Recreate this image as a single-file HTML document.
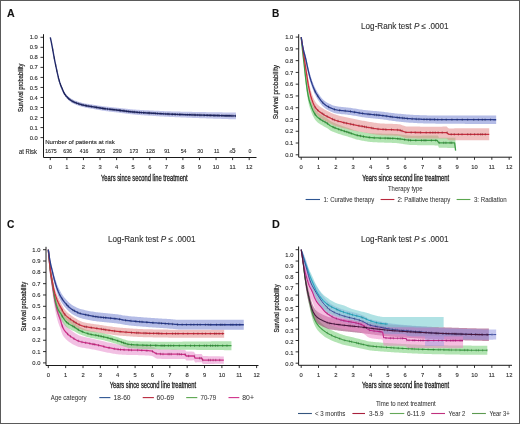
<!DOCTYPE html>
<html><head><meta charset="utf-8"><style>
html,body{margin:0;padding:0;background:#fff;}
svg{display:block;filter:blur(0.3px);}
text{stroke:#2a2a2a;stroke-width:0.12px;}
</style></head><body>
<svg width="520" height="424" viewBox="0 0 520 424" font-family='"Liberation Sans", sans-serif'>
<rect x="0" y="0" width="520" height="424" fill="#fff"/>
<text x="6.9" y="16.5" font-size="11.6"  font-weight="bold" textLength="7.7" lengthAdjust="spacingAndGlyphs" fill="#111" >A</text>
<text x="272" y="16.7" font-size="11.6"  font-weight="bold" textLength="7.3" lengthAdjust="spacingAndGlyphs" fill="#111" >B</text>
<text x="7" y="228.1" font-size="11.6"  font-weight="bold" textLength="7.4" lengthAdjust="spacingAndGlyphs" fill="#111" >C</text>
<text x="272" y="228.1" font-size="11.6"  font-weight="bold" textLength="7.8" lengthAdjust="spacingAndGlyphs" fill="#111" >D</text>
<path d="M43.5,34.2V157.5H256.5" fill="none" stroke="#1a1a1a" stroke-width="1"/>
<path d="M40.5,137.6H43.5M40.5,127.57H43.5M40.5,117.54H43.5M40.5,107.51H43.5M40.5,97.48H43.5M40.5,87.45H43.5M40.5,77.42H43.5M40.5,67.39H43.5M40.5,57.36H43.5M40.5,47.33H43.5M40.5,37.3H43.5M50.3,157.5V160.1M66.88,157.5V160.1M83.45,157.5V160.1M100.02,157.5V160.1M116.6,157.5V160.1M133.18,157.5V160.1M149.75,157.5V160.1M166.32,157.5V160.1M182.9,157.5V160.1M199.47,157.5V160.1M216.05,157.5V160.1M232.62,157.5V160.1M249.2,157.5V160.1" stroke="#1a1a1a" stroke-width="0.9"/>
<text x="37.8" y="139.69" font-size="5.8" text-anchor="end"   fill="#333" >0.0</text>
<text x="37.8" y="129.66" font-size="5.8" text-anchor="end"   fill="#333" >0.1</text>
<text x="37.8" y="119.63" font-size="5.8" text-anchor="end"   fill="#333" >0.2</text>
<text x="37.8" y="109.6" font-size="5.8" text-anchor="end"   fill="#333" >0.3</text>
<text x="37.8" y="99.57" font-size="5.8" text-anchor="end"   fill="#333" >0.4</text>
<text x="37.8" y="89.54" font-size="5.8" text-anchor="end"   fill="#333" >0.5</text>
<text x="37.8" y="79.51" font-size="5.8" text-anchor="end"   fill="#333" >0.6</text>
<text x="37.8" y="69.48" font-size="5.8" text-anchor="end"   fill="#333" >0.7</text>
<text x="37.8" y="59.45" font-size="5.8" text-anchor="end"   fill="#333" >0.8</text>
<text x="37.8" y="49.42" font-size="5.8" text-anchor="end"   fill="#333" >0.9</text>
<text x="37.8" y="39.39" font-size="5.8" text-anchor="end"   fill="#333" >1.0</text>
<text x="50.3" y="169.09" font-size="5.8" text-anchor="middle"   fill="#333" >0</text>
<text x="66.88" y="169.09" font-size="5.8" text-anchor="middle"   fill="#333" >1</text>
<text x="83.45" y="169.09" font-size="5.8" text-anchor="middle"   fill="#333" >2</text>
<text x="100.02" y="169.09" font-size="5.8" text-anchor="middle"   fill="#333" >3</text>
<text x="116.6" y="169.09" font-size="5.8" text-anchor="middle"   fill="#333" >4</text>
<text x="133.18" y="169.09" font-size="5.8" text-anchor="middle"   fill="#333" >5</text>
<text x="149.75" y="169.09" font-size="5.8" text-anchor="middle"   fill="#333" >6</text>
<text x="166.32" y="169.09" font-size="5.8" text-anchor="middle"   fill="#333" >7</text>
<text x="182.9" y="169.09" font-size="5.8" text-anchor="middle"   fill="#333" >8</text>
<text x="199.47" y="169.09" font-size="5.8" text-anchor="middle"   fill="#333" >9</text>
<text x="216.05" y="169.09" font-size="5.8" text-anchor="middle"   fill="#333" >10</text>
<text x="232.62" y="169.09" font-size="5.8" text-anchor="middle"   fill="#333" >11</text>
<text x="249.2" y="169.09" font-size="5.8" text-anchor="middle"   fill="#333" >12</text>
<text transform="translate(22.8,87.7) rotate(-90)" font-size="7.6" text-anchor="middle" textLength="48.4" lengthAdjust="spacingAndGlyphs" fill="#1a1a1a" style="stroke-width:0.24px">Survival probability</text>
<text x="101" y="180.8" font-size="8.2"   textLength="86.7" lengthAdjust="spacingAndGlyphs" fill="#1a1a1a" style="stroke-width:0.32px">Years since second line treatment</text>
<text x="45.2" y="144.2" font-size="6.0"   textLength="69.6" lengthAdjust="spacingAndGlyphs" fill="#222" >Number of patients at risk</text>
<text x="19" y="153.5" font-size="6.6"   textLength="17.9" lengthAdjust="spacingAndGlyphs" fill="#222" >at Risk</text>
<text x="51" y="153.1" font-size="5.2" text-anchor="middle"   fill="#333" >1675</text>
<text x="67.58" y="153.1" font-size="5.2" text-anchor="middle"   fill="#333" >636</text>
<text x="84.15" y="153.1" font-size="5.2" text-anchor="middle"   fill="#333" >416</text>
<text x="100.72" y="153.1" font-size="5.2" text-anchor="middle"   fill="#333" >305</text>
<text x="117.3" y="153.1" font-size="5.2" text-anchor="middle"   fill="#333" >230</text>
<text x="133.88" y="153.1" font-size="5.2" text-anchor="middle"   fill="#333" >173</text>
<text x="150.45" y="153.1" font-size="5.2" text-anchor="middle"   fill="#333" >128</text>
<text x="167.02" y="153.1" font-size="5.2" text-anchor="middle"   fill="#333" >91</text>
<text x="183.6" y="153.1" font-size="5.2" text-anchor="middle"   fill="#333" >54</text>
<text x="200.17" y="153.1" font-size="5.2" text-anchor="middle"   fill="#333" >30</text>
<text x="216.75" y="153.1" font-size="5.2" text-anchor="middle"   fill="#333" >11</text>
<text x="229.43" y="153.0" font-size="4.8" fill="#555">≤<tspan font-size="6.4" fill="#222">5</tspan></text>
<text x="249.9" y="153.1" font-size="5.2" text-anchor="middle"   fill="#333" >0</text>
<polygon points="50.3,36.7 51.47,42.1 52.64,48.26 53.8,54.76 54.97,60.79 56.14,66.22 57.31,71.68 58.47,76.55 59.64,80.73 60.81,84.04 61.98,86.8 63.14,89.54 64.31,91.87 65.48,93.53 66.65,94.92 67.81,96.11 68.98,97.1 70.15,97.96 71.32,98.71 72.48,99.36 73.65,99.91 74.82,100.38 75.99,100.84 77.15,101.26 78.32,101.66 79.49,102.02 80.66,102.35 81.82,102.66 82.99,102.94 84.16,103.2 85.33,103.43 86.49,103.65 87.66,103.84 88.83,104.02 90,104.2 91.16,104.37 92.33,104.54 93.5,104.72 94.67,104.9 95.83,105.09 97,105.27 98.17,105.46 99.34,105.64 100.5,105.81 101.67,105.98 102.84,106.15 104.01,106.3 105.17,106.45 106.34,106.58 107.51,106.72 108.68,106.84 109.84,106.96 111.01,107.08 112.18,107.19 113.35,107.3 114.52,107.42 115.68,107.53 116.85,107.65 118.02,107.77 119.19,107.9 120.35,108.04 121.52,108.17 122.69,108.31 123.86,108.44 125.02,108.58 126.19,108.72 127.36,108.85 128.53,108.98 129.69,109.1 130.86,109.22 132.03,109.34 133.2,109.44 134.36,109.54 135.53,109.62 136.7,109.71 137.87,109.78 139.03,109.86 140.2,109.93 141.37,109.99 142.54,110.06 143.7,110.12 144.87,110.18 146.04,110.24 147.21,110.3 148.37,110.35 149.54,110.41 150.71,110.47 151.88,110.52 153.04,110.58 154.21,110.64 155.38,110.69 156.55,110.75 157.71,110.81 158.88,110.86 160.05,110.92 161.22,110.97 162.38,111.03 163.55,111.08 164.72,111.13 165.89,111.18 167.05,111.22 168.22,111.27 169.39,111.31 170.56,111.35 171.72,111.38 172.89,111.42 174.06,111.46 175.23,111.49 176.4,111.52 177.56,111.55 178.73,111.59 179.9,111.62 181.07,111.65 182.23,111.67 183.4,111.7 184.57,111.73 185.74,111.75 186.9,111.78 188.07,111.8 189.24,111.82 190.41,111.84 191.57,111.87 192.74,111.89 193.91,111.91 195.08,111.93 196.24,111.96 197.41,111.98 198.58,112 199.75,112.02 200.91,112.04 202.08,112.06 203.25,112.08 204.42,112.1 205.58,112.12 206.75,112.14 207.92,112.16 209.09,112.18 210.25,112.2 211.42,112.22 212.59,112.24 213.76,112.25 214.92,112.27 216.09,112.29 217.26,112.31 218.43,112.32 219.59,112.34 220.76,112.36 221.93,112.37 223.1,112.39 224.26,112.4 225.43,112.42 226.6,112.43 227.77,112.45 228.93,112.46 230.1,112.47 231.27,112.49 232.44,112.5 233.6,112.51 234.77,112.52 235.94,112.54 235.94,119.34 234.77,119.3 233.6,119.27 232.44,119.23 231.27,119.2 230.1,119.16 228.93,119.13 227.77,119.09 226.6,119.06 225.43,119.02 224.26,118.98 223.1,118.95 221.93,118.91 220.76,118.87 219.59,118.83 218.43,118.79 217.26,118.76 216.09,118.72 214.92,118.68 213.76,118.64 212.59,118.6 211.42,118.56 210.25,118.52 209.09,118.47 207.92,118.43 206.75,118.39 205.58,118.35 204.42,118.31 203.25,118.27 202.08,118.22 200.91,118.18 199.75,118.14 198.58,118.09 197.41,118.05 196.24,118.01 195.08,117.96 193.91,117.92 192.74,117.88 191.57,117.83 190.41,117.79 189.24,117.74 188.07,117.7 186.9,117.65 185.74,117.6 184.57,117.56 183.4,117.51 182.23,117.46 181.07,117.42 179.9,117.37 178.73,117.32 177.56,117.27 176.4,117.22 175.23,117.17 174.06,117.12 172.89,117.07 171.72,117.02 170.56,116.96 169.39,116.9 168.22,116.85 167.05,116.78 165.89,116.72 164.72,116.65 163.55,116.59 162.38,116.52 161.22,116.45 160.05,116.38 158.88,116.3 157.71,116.23 156.55,116.15 155.38,116.08 154.21,116 153.04,115.93 151.88,115.85 150.71,115.78 149.54,115.71 148.37,115.63 147.21,115.56 146.04,115.48 144.87,115.41 143.7,115.33 142.54,115.25 141.37,115.17 140.2,115.08 139.03,114.99 137.87,114.9 136.7,114.81 135.53,114.71 134.36,114.6 133.2,114.49 132.03,114.37 130.86,114.24 129.69,114.1 128.53,113.96 127.36,113.81 126.19,113.66 125.02,113.51 123.86,113.35 122.69,113.2 121.52,113.04 120.35,112.89 119.19,112.74 118.02,112.6 116.85,112.45 115.68,112.31 114.52,112.18 113.35,112.04 112.18,111.91 111.01,111.77 109.84,111.63 108.68,111.49 107.51,111.34 106.34,111.19 105.17,111.03 104.01,110.86 102.84,110.68 101.67,110.49 100.5,110.3 99.34,110.1 98.17,109.9 97,109.69 95.83,109.49 94.67,109.28 93.5,109.08 92.33,108.87 91.16,108.68 90,108.49 88.83,108.29 87.66,108.08 86.49,107.86 85.33,107.63 84.16,107.37 82.99,107.09 81.82,106.79 80.66,106.46 79.49,106.1 78.32,105.72 77.15,105.3 75.99,104.85 74.82,104.36 73.65,103.8 72.48,103.17 71.32,102.43 70.15,101.6 68.98,100.66 67.81,99.57 66.65,98.31 65.48,96.83 64.31,95.09 63.14,92.67 61.98,89.84 60.81,87 59.64,83.61 58.47,79.33 57.31,74.23 56.14,68.55 54.97,62.9 53.8,56.63 52.64,49.91 51.47,43.53 50.3,37.9" fill="#8f98dd" fill-opacity="0.55"/>
<polyline points="50.3,37.3 51.47,42.82 52.64,49.09 53.8,55.69 54.97,61.84 56.14,67.39 57.31,72.95 58.47,77.94 59.64,82.17 60.81,85.52 61.98,88.32 63.14,91.1 64.31,93.48 65.48,95.18 66.65,96.62 67.81,97.84 68.98,98.88 70.15,99.78 71.32,100.57 72.48,101.26 73.65,101.86 74.82,102.37 75.99,102.84 77.15,103.28 78.32,103.69 79.49,104.06 80.66,104.41 81.82,104.73 82.99,105.02 84.16,105.29 85.33,105.53 86.49,105.75 87.66,105.96 88.83,106.16 90,106.34 91.16,106.53 92.33,106.71 93.5,106.9 94.67,107.09 95.83,107.29 97,107.48 98.17,107.68 99.34,107.87 100.5,108.06 101.67,108.24 102.84,108.41 104.01,108.58 105.17,108.74 106.34,108.89 107.51,109.03 108.68,109.16 109.84,109.29 111.01,109.42 112.18,109.55 113.35,109.67 114.52,109.8 115.68,109.92 116.85,110.05 118.02,110.19 119.19,110.32 120.35,110.46 121.52,110.61 122.69,110.75 123.86,110.9 125.02,111.05 126.19,111.19 127.36,111.33 128.53,111.47 129.69,111.6 130.86,111.73 132.03,111.85 133.2,111.97 134.36,112.07 135.53,112.17 136.7,112.26 137.87,112.34 139.03,112.43 140.2,112.5 141.37,112.58 142.54,112.65 143.7,112.72 144.87,112.79 146.04,112.86 147.21,112.93 148.37,112.99 149.54,113.06 150.71,113.12 151.88,113.19 153.04,113.25 154.21,113.32 155.38,113.39 156.55,113.45 157.71,113.52 158.88,113.58 160.05,113.65 161.22,113.71 162.38,113.77 163.55,113.83 164.72,113.89 165.89,113.95 167.05,114 168.22,114.06 169.39,114.11 170.56,114.15 171.72,114.2 172.89,114.24 174.06,114.29 175.23,114.33 176.4,114.37 177.56,114.41 178.73,114.45 179.9,114.49 181.07,114.53 182.23,114.57 183.4,114.61 184.57,114.64 185.74,114.68 186.9,114.71 188.07,114.75 189.24,114.78 190.41,114.82 191.57,114.85 192.74,114.88 193.91,114.92 195.08,114.95 196.24,114.98 197.41,115.01 198.58,115.05 199.75,115.08 200.91,115.11 202.08,115.14 203.25,115.17 204.42,115.2 205.58,115.24 206.75,115.27 207.92,115.3 209.09,115.33 210.25,115.36 211.42,115.39 212.59,115.42 213.76,115.45 214.92,115.47 216.09,115.5 217.26,115.53 218.43,115.56 219.59,115.59 220.76,115.61 221.93,115.64 223.1,115.67 224.26,115.69 225.43,115.72 226.6,115.75 227.77,115.77 228.93,115.8 230.1,115.82 231.27,115.84 232.44,115.87 233.6,115.89 234.77,115.91 235.94,115.94" fill="none" stroke="#222a6c" stroke-width="1.4" stroke-linejoin="round"/><path d="M52.79,48.66v2.6 M54.18,56.48v2.6 M55.74,64.22v2.6 M56.87,69.58v2.6 M58.35,76.17v2.6 M59.23,79.45v2.6 M60.41,83.18v2.6 M61.17,85.1v2.6 M62.26,87.71v2.6 M63.45,90.48v2.6 M64.43,92.38v2.6 M65.75,94.24v2.6 M67.36,96.09v2.6 M68.64,97.3v2.6 M70.08,98.43v2.6 M71.91,99.63v2.6 M73.22,100.35v2.6 M74.86,101.09v2.6 M76.47,101.73v2.6 M78.54,102.46v2.6 M79.93,102.9v2.6 M81.75,103.41v2.6 M83.07,103.74v2.6 M85.29,104.22v2.6 M86.54,104.46v2.6 M88.35,104.78v2.6 M89.94,105.03v2.6 M91.64,105.3v2.6 M94,105.68v2.6 M95.05,105.86v2.6 M96.46,106.09v2.6 M98.07,106.36v2.6 M99.41,106.58v2.6 M100.73,106.79v2.6 M102.47,107.06v2.6 M103.27,107.17v2.6 M104.21,107.31v2.6 M105.28,107.45v2.6 M107.51,107.73v2.6 M109.78,107.99v2.6 M110.89,108.11v2.6 M112.2,108.25v2.6 M113.69,108.41v2.6 M114.95,108.54v2.6 M116.39,108.7v2.6 M118.08,108.89v2.6 M119.51,109.06v2.6 M120.41,109.17v2.6 M121.06,109.25v2.6 M122.82,109.47v2.6 M123.64,109.57v2.6 M124.43,109.67v2.6 M126.21,109.89v2.6 M126.94,109.98v2.6 M128.45,110.16v2.6 M129.87,110.32v2.6 M130.93,110.44v2.6 M132.48,110.6v2.6 M133.9,110.73v2.6 M134.6,110.79v2.6 M136.08,110.91v2.6 M137.66,111.03v2.6 M139.48,111.16v2.6 M141.44,111.28v2.6 M143.47,111.41v2.6 M145.05,111.5v2.6 M147.08,111.62v2.6 M148.68,111.71v2.6 M149.42,111.75v2.6 M150.03,111.78v2.6 M151.82,111.88v2.6 M153.93,112v2.6 M155.55,112.1v2.6 M157.73,112.22v2.6 M159.89,112.34v2.6 M161,112.4v2.6 M163.34,112.52v2.6 M165.28,112.62v2.6 M167.33,112.72v2.6 M168.66,112.77v2.6 M169.8,112.82v2.6 M171.94,112.91v2.6 M172.72,112.94v2.6 M174.84,113.02v2.6 M175.58,113.04v2.6 M177.33,113.11v2.6 M179.44,113.18v2.6 M180.87,113.23v2.6 M183.07,113.3v2.6 M185.06,113.36v2.6 M187.29,113.42v2.6 M189.38,113.49v2.6 M190.99,113.53v2.6 M192.11,113.56v2.6 M193.21,113.6v2.6 M194.45,113.63v2.6 M195.6,113.66v2.6 M197.7,113.72v2.6 M199.43,113.77v2.6 M200.37,113.8v2.6 M201.73,113.83v2.6 M203.29,113.87v2.6 M204.58,113.91v2.6 M206.93,113.97v2.6 M207.9,114v2.6 M209.42,114.04v2.6 M210.51,114.06v2.6 M211.26,114.08v2.6 M212.99,114.13v2.6 M214,114.15v2.6 M215.08,114.18v2.6 M217.13,114.23v2.6 M218.2,114.25v2.6 M219.65,114.29v2.6 M221.55,114.33v2.6 M222.79,114.36v2.6 M224.08,114.39v2.6 M225.73,114.43v2.6 M226.81,114.45v2.6 M227.94,114.47v2.6 M229.09,114.5v2.6 M230.14,114.52v2.6 M231.71,114.55v2.6 M233,114.58v2.6 M235.38,114.62v2.6" stroke="#141940" stroke-width="0.8" opacity="0.6"/>
<path d="M298.7,34.2V157.2H512" fill="none" stroke="#1a1a1a" stroke-width="1"/>
<path d="M295.7,154.8H298.7M295.7,143.03H298.7M295.7,131.26H298.7M295.7,119.49H298.7M295.7,107.72H298.7M295.7,95.95H298.7M295.7,84.18H298.7M295.7,72.41H298.7M295.7,60.64H298.7M295.7,48.87H298.7M295.7,37.1H298.7M301.2,157.2V159.8M318.53,157.2V159.8M335.86,157.2V159.8M353.19,157.2V159.8M370.52,157.2V159.8M387.85,157.2V159.8M405.18,157.2V159.8M422.51,157.2V159.8M439.84,157.2V159.8M457.17,157.2V159.8M474.5,157.2V159.8M491.83,157.2V159.8M509.16,157.2V159.8" stroke="#1a1a1a" stroke-width="0.9"/>
<text x="293.2" y="156.89" font-size="5.8" text-anchor="end"   fill="#333" >0.0</text>
<text x="293.2" y="145.12" font-size="5.8" text-anchor="end"   fill="#333" >0.1</text>
<text x="293.2" y="133.35" font-size="5.8" text-anchor="end"   fill="#333" >0.2</text>
<text x="293.2" y="121.58" font-size="5.8" text-anchor="end"   fill="#333" >0.3</text>
<text x="293.2" y="109.81" font-size="5.8" text-anchor="end"   fill="#333" >0.4</text>
<text x="293.2" y="98.04" font-size="5.8" text-anchor="end"   fill="#333" >0.5</text>
<text x="293.2" y="86.27" font-size="5.8" text-anchor="end"   fill="#333" >0.6</text>
<text x="293.2" y="74.5" font-size="5.8" text-anchor="end"   fill="#333" >0.7</text>
<text x="293.2" y="62.73" font-size="5.8" text-anchor="end"   fill="#333" >0.8</text>
<text x="293.2" y="50.96" font-size="5.8" text-anchor="end"   fill="#333" >0.9</text>
<text x="293.2" y="39.19" font-size="5.8" text-anchor="end"   fill="#333" >1.0</text>
<text x="301.2" y="169.09" font-size="5.8" text-anchor="middle"   fill="#333" >0</text>
<text x="318.53" y="169.09" font-size="5.8" text-anchor="middle"   fill="#333" >1</text>
<text x="335.86" y="169.09" font-size="5.8" text-anchor="middle"   fill="#333" >2</text>
<text x="353.19" y="169.09" font-size="5.8" text-anchor="middle"   fill="#333" >3</text>
<text x="370.52" y="169.09" font-size="5.8" text-anchor="middle"   fill="#333" >4</text>
<text x="387.85" y="169.09" font-size="5.8" text-anchor="middle"   fill="#333" >5</text>
<text x="405.18" y="169.09" font-size="5.8" text-anchor="middle"   fill="#333" >6</text>
<text x="422.51" y="169.09" font-size="5.8" text-anchor="middle"   fill="#333" >7</text>
<text x="439.84" y="169.09" font-size="5.8" text-anchor="middle"   fill="#333" >8</text>
<text x="457.17" y="169.09" font-size="5.8" text-anchor="middle"   fill="#333" >9</text>
<text x="474.5" y="169.09" font-size="5.8" text-anchor="middle"   fill="#333" >10</text>
<text x="491.83" y="169.09" font-size="5.8" text-anchor="middle"   fill="#333" >11</text>
<text x="509.16" y="169.09" font-size="5.8" text-anchor="middle"   fill="#333" >12</text>
<text transform="translate(277.7,92.2) rotate(-90)" font-size="7.6" text-anchor="middle" textLength="54.3" lengthAdjust="spacingAndGlyphs" fill="#1a1a1a" style="stroke-width:0.24px">Survival probability</text>
<text x="362.2" y="180.8" font-size="8.2"   textLength="87" lengthAdjust="spacingAndGlyphs" fill="#1a1a1a" style="stroke-width:0.32px">Years since second line treatment</text>
<text x="361.1" y="28.9" font-size="8.5" fill="#333" textLength="87.5" lengthAdjust="spacingAndGlyphs">Log-Rank test <tspan font-style="italic">P</tspan> ≤ .0001</text>
<text x="388" y="191.2" font-size="6.4"   textLength="34.6" lengthAdjust="spacingAndGlyphs" fill="#333" style="stroke-width:0.04px">Therapy type</text>
<path d="M305.6,199.5H320" stroke="#2d5592" stroke-width="1.1"/>
<text x="323.5" y="201.7" font-size="6.4"   textLength="50.8" lengthAdjust="spacingAndGlyphs" fill="#333" style="stroke-width:0.04px">1: Curative therapy</text>
<path d="M380.6,199.5H394.4" stroke="#b8283c" stroke-width="1.1"/>
<text x="397.5" y="201.7" font-size="6.4"   textLength="52.8" lengthAdjust="spacingAndGlyphs" fill="#333" style="stroke-width:0.04px">2: Palliative therapy</text>
<path d="M456.6,199.5H470.4" stroke="#5aa64e" stroke-width="1.1"/>
<text x="473.9" y="201.7" font-size="6.4"   textLength="32.8" lengthAdjust="spacingAndGlyphs" fill="#333" style="stroke-width:0.04px">3: Radiation</text>
<polygon points="301.2,37.1 302.17,45.58 303.14,52.82 304.11,59.95 305.08,68.21 306.05,75.67 307.02,82.59 307.99,88.64 308.96,93.54 309.93,96.85 310.9,99.62 311.87,102.32 312.84,104.77 313.81,106.76 314.78,108.51 315.75,110.03 316.72,111.26 317.69,112.27 318.66,113.13 319.63,113.85 320.6,114.53 321.57,115.18 322.54,115.78 323.51,116.33 324.48,116.87 325.45,117.42 326.42,118.02 327.39,118.71 328.36,119.51 329.33,120.29 330.3,120.92 331.27,121.46 332.24,121.96 333.21,122.42 334.18,122.86 335.15,123.27 336.12,123.67 337.09,124.05 338.06,124.43 339.03,124.8 340,125.17 340.97,125.53 341.94,125.87 342.91,126.2 343.88,126.53 344.85,126.85 345.82,127.16 346.79,127.48 347.76,127.8 348.73,128.12 349.7,128.46 350.67,128.82 351.64,129.18 352.61,129.54 353.58,129.89 354.55,130.2 355.52,130.5 356.49,130.77 357.46,131 358.43,131.21 359.4,131.4 360.37,131.6 361.34,131.79 362.31,131.97 363.28,132.14 364.25,132.31 365.22,132.47 366.19,132.61 367.16,132.75 368.13,132.88 369.1,132.99 370.07,133.1 371.04,133.19 372.01,133.26 372.98,133.32 373.95,133.37 374.92,133.42 375.89,133.46 376.86,133.49 377.83,133.52 378.8,133.55 379.77,133.58 380.74,133.6 381.71,133.62 382.68,133.64 383.65,133.66 384.62,133.68 385.59,133.7 386.56,133.71 387.53,133.73 388.5,133.75 389.47,133.77 390.44,133.8 391.41,133.83 392.38,133.85 393.35,133.89 394.32,133.93 395.29,133.97 396.26,134.01 397.23,134.08 398.2,134.17 399.17,134.27 400.14,134.39 401.11,134.52 402.08,134.66 403.05,134.81 404.02,134.95 404.99,135.1 405.96,135.23 406.93,135.34 407.9,135.45 408.87,135.53 409.84,135.6 410.81,135.64 411.79,135.65 412.76,135.65 413.73,135.65 414.7,135.65 415.67,135.65 416.64,135.65 417.61,135.64 418.58,135.64 419.55,135.64 420.52,135.63 421.49,135.63 422.46,135.62 423.43,135.61 424.4,135.61 425.37,135.6 426.34,135.59 427.31,135.58 428.28,135.57 429.25,135.56 430.22,135.55 431.19,135.54 432.16,135.53 433.13,135.52 434.1,135.51 435.07,135.5 436.04,135.48 437.01,135.47 437.98,135.56 438.95,137.8 439.92,137.79 440.89,137.78 441.86,137.77 442.83,137.76 443.8,137.75 444.77,137.74 445.74,137.73 446.71,137.72 447.68,137.7 448.65,137.69 449.62,137.68 450.59,137.67 451.56,137.66 452.53,137.65 453.5,137.64 454.47,137.63 455.44,137.61 455.44,147.97 454.47,147.96 453.5,147.95 452.53,147.94 451.56,147.93 450.59,147.92 449.62,147.91 448.65,147.9 447.68,147.89 446.71,147.87 445.74,147.86 444.77,147.85 443.8,147.84 442.83,147.83 441.86,147.82 440.89,147.81 439.92,147.8 438.95,147.78 437.98,145.52 437.01,145.41 436.04,145.4 435.07,145.39 434.1,145.37 433.13,145.36 432.16,145.35 431.19,145.34 430.22,145.33 429.25,145.32 428.28,145.31 427.31,145.29 426.34,145.28 425.37,145.27 424.4,145.25 423.43,145.24 422.46,145.22 421.49,145.2 420.52,145.19 419.55,145.17 418.58,145.15 417.61,145.13 416.64,145.11 415.67,145.09 414.7,145.07 413.73,145.05 412.76,145.02 411.79,145 410.81,144.97 409.84,144.91 408.87,144.82 407.9,144.71 406.93,144.58 405.96,144.44 404.99,144.29 404.02,144.14 403.05,143.98 402.08,143.83 401.11,143.68 400.14,143.53 399.17,143.4 398.2,143.28 397.23,143.19 396.26,143.11 395.29,143.05 394.32,143 393.35,142.95 392.38,142.91 391.41,142.87 390.44,142.83 389.47,142.79 388.5,142.76 387.53,142.73 386.56,142.7 385.59,142.67 384.62,142.64 383.65,142.61 382.68,142.58 381.71,142.55 380.74,142.52 379.77,142.48 378.8,142.45 377.83,142.41 376.86,142.36 375.89,142.32 374.92,142.27 373.95,142.21 372.98,142.15 372.01,142.08 371.04,141.99 370.07,141.89 369.1,141.78 368.13,141.65 367.16,141.51 366.19,141.36 365.22,141.2 364.25,141.04 363.28,140.86 362.31,140.67 361.34,140.48 360.37,140.28 359.4,140.08 358.43,139.87 357.46,139.65 356.49,139.41 355.52,139.13 354.55,138.82 353.58,138.49 352.61,138.16 351.64,137.84 350.67,137.52 349.7,137.2 348.73,136.9 347.76,136.62 346.79,136.34 345.82,136.06 344.85,135.78 343.88,135.5 342.91,135.22 341.94,134.93 340.97,134.62 340,134.3 339.03,133.97 338.06,133.64 337.09,133.3 336.12,132.96 335.15,132.6 334.18,132.23 333.21,131.83 332.24,131.4 331.27,130.94 330.3,130.44 329.33,129.86 328.36,129.11 327.39,128.35 326.42,127.7 325.45,127.14 324.48,126.63 323.51,126.13 322.54,125.62 321.57,125.06 320.6,124.45 319.63,123.81 318.66,123.13 317.69,122.41 316.72,121.56 315.75,120.49 314.78,119.13 313.81,117.54 312.84,115.7 311.87,113.42 310.9,110.87 309.93,108.27 308.96,105.12 307.99,100.37 307.02,94.49 306.05,87.06 305.08,77.93 304.11,67.99 303.14,59.17 302.17,48.94 301.2,37.1" fill="#7fd27f" fill-opacity="0.6"/>
<polygon points="301.2,37.1 302.38,43.04 303.57,49.81 304.75,57.33 305.93,63.94 307.11,71.35 308.3,79.26 309.48,84.86 310.66,89.87 311.84,93.76 313.03,96.96 314.21,99.77 315.39,101.87 316.57,103.43 317.76,104.7 318.94,105.77 320.12,106.65 321.3,107.43 322.49,108.18 323.67,108.92 324.85,109.64 326.03,110.31 327.22,110.93 328.4,111.52 329.58,112.1 330.76,112.66 331.95,113.2 333.13,113.7 334.31,114.17 335.49,114.6 336.68,114.99 337.86,115.34 339.04,115.68 340.23,115.99 341.41,116.29 342.59,116.57 343.77,116.84 344.96,117.1 346.14,117.36 347.32,117.61 348.5,117.86 349.69,118.1 350.87,118.35 352.05,118.59 353.23,118.83 354.42,119.07 355.6,119.31 356.78,119.54 357.96,119.77 359.15,119.99 360.33,120.21 361.51,120.42 362.69,120.63 363.88,120.84 365.06,121.04 366.24,121.25 367.42,121.45 368.61,121.67 369.79,121.88 370.97,122.09 372.15,122.3 373.34,122.5 374.52,122.69 375.7,122.86 376.89,123.03 378.07,123.17 379.25,123.3 380.43,123.4 381.62,123.48 382.8,123.54 383.98,123.6 385.16,123.64 386.35,123.68 387.53,123.72 388.71,123.75 389.89,123.78 391.08,123.81 392.26,123.85 393.44,123.89 394.62,123.94 395.81,123.99 396.99,124.06 398.17,124.14 399.35,124.24 400.54,124.5 401.72,124.9 402.9,125.38 404.08,125.85 405.27,126.22 406.45,126.43 407.63,126.46 408.81,126.48 410,126.51 411.18,126.53 412.36,126.54 413.55,126.56 414.73,126.57 415.91,126.59 417.09,126.6 418.28,126.61 419.46,126.62 420.64,126.63 421.82,126.63 423.01,126.64 424.19,126.64 425.37,126.64 426.55,126.65 427.74,126.65 428.92,126.65 430.1,126.64 431.28,126.64 432.47,126.64 433.65,126.64 434.83,126.64 436.01,126.64 437.2,126.63 438.38,126.63 439.56,126.63 440.74,126.63 441.93,126.63 443.11,126.62 444.29,126.62 445.47,126.62 446.66,126.62 447.84,127.72 449.02,128.38 450.21,128.38 451.39,128.38 452.57,128.38 453.75,128.38 454.94,128.37 456.12,128.37 457.3,128.37 458.48,128.37 459.67,128.37 460.85,128.36 462.03,128.36 463.21,128.36 464.4,128.36 465.58,128.36 466.76,128.36 467.94,128.35 469.13,128.35 470.31,128.35 471.49,128.35 472.67,128.35 473.86,128.35 475.04,128.34 476.22,128.34 477.4,128.34 478.59,128.34 479.77,128.34 480.95,128.34 482.14,128.33 483.32,128.33 484.5,128.33 485.68,128.33 486.87,128.33 488.05,128.33 489.23,128.32 489.23,140.32 488.05,140.31 486.87,140.31 485.68,140.31 484.5,140.31 483.32,140.31 482.14,140.31 480.95,140.3 479.77,140.3 478.59,140.3 477.4,140.3 476.22,140.3 475.04,140.3 473.86,140.29 472.67,140.29 471.49,140.29 470.31,140.29 469.13,140.29 467.94,140.29 466.76,140.28 465.58,140.28 464.4,140.28 463.21,140.28 462.03,140.28 460.85,140.28 459.67,140.27 458.48,140.27 457.3,140.27 456.12,140.27 454.94,140.27 453.75,140.27 452.57,140.26 451.39,140.26 450.21,140.26 449.02,140.26 447.84,139.59 446.66,138.49 445.47,138.49 444.29,138.49 443.11,138.48 441.93,138.48 440.74,138.48 439.56,138.48 438.38,138.48 437.2,138.48 436.01,138.47 434.83,138.47 433.65,138.47 432.47,138.47 431.28,138.47 430.1,138.47 428.92,138.46 427.74,138.46 426.55,138.46 425.37,138.45 424.19,138.45 423.01,138.44 421.82,138.43 420.64,138.42 419.46,138.41 418.28,138.4 417.09,138.38 415.91,138.37 414.73,138.35 413.55,138.33 412.36,138.31 411.18,138.29 410,138.27 408.81,138.24 407.63,138.22 406.45,138.18 405.27,137.97 404.08,137.59 402.9,137.12 401.72,136.64 400.54,136.23 399.35,135.98 398.17,135.87 396.99,135.79 395.81,135.72 394.62,135.66 393.44,135.6 392.26,135.56 391.08,135.52 389.89,135.49 388.71,135.45 387.53,135.42 386.35,135.38 385.16,135.33 383.98,135.29 382.8,135.23 381.62,135.16 380.43,135.08 379.25,134.97 378.07,134.84 376.89,134.7 375.7,134.53 374.52,134.35 373.34,134.16 372.15,133.95 370.97,133.74 369.79,133.53 368.61,133.31 367.42,133.1 366.24,132.88 365.06,132.68 363.88,132.47 362.69,132.26 361.51,132.05 360.33,131.83 359.15,131.61 357.96,131.38 356.78,131.15 355.6,130.91 354.42,130.67 353.23,130.43 352.05,130.17 350.87,129.91 349.69,129.64 348.5,129.38 347.32,129.11 346.14,128.84 344.96,128.56 343.77,128.28 342.59,127.99 341.41,127.69 340.23,127.37 339.04,127.03 337.86,126.68 336.68,126.3 335.49,125.9 334.31,125.44 333.13,124.95 331.95,124.43 330.76,123.87 329.58,123.29 328.4,122.69 327.22,122.08 326.03,121.44 324.85,120.75 323.67,120.01 322.49,119.24 321.3,118.48 320.12,117.68 318.94,116.78 317.76,115.76 316.57,114.59 315.39,113.13 314.21,111.13 313.03,108.42 311.84,105.31 310.66,101.52 309.48,96.6 308.3,91.11 307.11,83.29 305.93,75.12 304.75,66.47 303.57,56.91 302.38,47.13 301.2,37.1" fill="#e48a8a" fill-opacity="0.55"/>
<polygon points="301.2,37.1 302.43,43.43 303.65,48.73 304.88,52.69 306.1,57.04 307.33,62.92 308.56,68.37 309.78,73.21 311.01,77.29 312.24,80.88 313.46,84.11 314.69,86.96 315.91,89.36 317.14,91.46 318.37,93.38 319.59,95.21 320.82,96.92 322.05,98.38 323.27,99.63 324.5,100.75 325.72,101.69 326.95,102.44 328.18,103.13 329.4,103.78 330.63,104.37 331.85,104.91 333.08,105.38 334.31,105.78 335.53,106.11 336.76,106.36 337.99,106.55 339.21,106.72 340.44,106.87 341.66,107 342.89,107.12 344.12,107.23 345.34,107.33 346.57,107.45 347.79,107.57 349.02,107.71 350.25,107.87 351.47,108.05 352.7,108.23 353.93,108.43 355.15,108.62 356.38,108.82 357.6,109.02 358.83,109.22 360.06,109.42 361.28,109.61 362.51,109.79 363.74,109.95 364.96,110.11 366.19,110.24 367.41,110.37 368.64,110.49 369.87,110.6 371.09,110.71 372.32,110.81 373.54,110.91 374.77,111.01 376,111.12 377.22,111.22 378.45,111.33 379.68,111.45 380.9,111.58 382.13,111.71 383.35,111.85 384.58,112.01 385.81,112.16 387.03,112.32 388.26,112.48 389.48,112.64 390.71,112.8 391.94,112.96 393.16,113.11 394.39,113.25 395.62,113.38 396.84,113.51 398.07,113.63 399.29,113.75 400.52,113.87 401.75,113.99 402.97,114.11 404.2,114.22 405.43,114.32 406.65,114.43 407.88,114.53 409.1,114.61 410.33,114.69 411.56,114.76 412.78,114.82 414.01,114.88 415.23,114.94 416.46,115 417.69,115.06 418.91,115.11 420.14,115.16 421.37,115.21 422.59,115.25 423.82,115.29 425.04,115.33 426.27,115.35 427.5,115.38 428.72,115.4 429.95,115.41 431.17,115.41 432.4,115.42 433.63,115.42 434.85,115.43 436.08,115.43 437.31,115.44 438.53,115.44 439.76,115.44 440.98,115.45 442.21,115.45 443.44,115.45 444.66,115.46 445.89,115.46 447.12,115.46 448.34,115.47 449.57,115.47 450.79,115.47 452.02,115.47 453.25,115.47 454.47,115.48 455.7,115.48 456.92,115.48 458.15,115.48 459.38,115.48 460.6,115.48 461.83,115.48 463.06,115.48 464.28,115.48 465.51,115.48 466.73,115.48 467.96,115.48 469.19,115.48 470.41,115.48 471.64,115.48 472.87,115.48 474.09,115.48 475.32,115.48 476.54,115.47 477.77,115.47 479,115.47 480.22,115.47 481.45,115.47 482.67,115.46 483.9,115.46 485.13,115.46 486.35,115.46 487.58,115.45 488.81,115.45 490.03,115.45 491.26,115.44 492.48,115.44 493.71,115.44 494.94,115.43 496.16,115.43 496.16,124.02 494.94,124.02 493.71,124.01 492.48,124.01 491.26,124.01 490.03,124 488.81,124 487.58,123.99 486.35,123.99 485.13,123.98 483.9,123.98 482.67,123.97 481.45,123.96 480.22,123.96 479,123.95 477.77,123.95 476.54,123.94 475.32,123.93 474.09,123.93 472.87,123.92 471.64,123.91 470.41,123.91 469.19,123.9 467.96,123.89 466.73,123.88 465.51,123.88 464.28,123.87 463.06,123.86 461.83,123.85 460.6,123.84 459.38,123.83 458.15,123.83 456.92,123.82 455.7,123.81 454.47,123.8 453.25,123.79 452.02,123.78 450.79,123.77 449.57,123.76 448.34,123.75 447.12,123.74 445.89,123.73 444.66,123.72 443.44,123.7 442.21,123.69 440.98,123.68 439.76,123.67 438.53,123.66 437.31,123.65 436.08,123.63 434.85,123.62 433.63,123.61 432.4,123.59 431.17,123.58 429.95,123.57 428.72,123.55 427.5,123.52 426.27,123.49 425.04,123.46 423.82,123.41 422.59,123.37 421.37,123.32 420.14,123.26 418.91,123.2 417.69,123.14 416.46,123.08 415.23,123.01 414.01,122.94 412.78,122.87 411.56,122.8 410.33,122.73 409.1,122.64 407.88,122.54 406.65,122.44 405.43,122.33 404.2,122.2 402.97,122.07 401.75,121.94 400.52,121.8 399.29,121.66 398.07,121.52 396.84,121.38 395.62,121.24 394.39,121.09 393.16,120.92 391.94,120.76 390.71,120.58 389.48,120.4 388.26,120.22 387.03,120.04 385.81,119.86 384.58,119.69 383.35,119.52 382.13,119.36 380.9,119.2 379.68,119.06 378.45,118.92 377.22,118.79 376,118.67 374.77,118.55 373.54,118.43 372.32,118.31 371.09,118.18 369.87,118.06 368.64,117.93 367.41,117.79 366.19,117.64 364.96,117.49 363.74,117.31 362.51,117.13 361.28,116.93 360.06,116.72 358.83,116.51 357.6,116.29 356.38,116.07 355.15,115.85 353.93,115.64 352.7,115.43 351.47,115.24 350.25,115.06 349.02,114.89 347.79,114.74 346.57,114.61 345.34,114.49 344.12,114.37 342.89,114.26 341.66,114.13 340.44,114 339.21,113.84 337.99,113.67 336.76,113.46 335.53,113.21 334.31,112.88 333.08,112.47 331.85,111.98 330.63,111.44 329.4,110.84 328.18,110.19 326.95,109.49 325.72,108.73 324.5,107.78 323.27,106.66 322.05,105.4 320.82,103.93 319.59,102.22 318.37,100.38 317.14,98.46 315.91,96.36 314.69,93.96 313.46,91.11 312.24,87.88 311.01,84.29 309.78,80.21 308.56,75.37 307.33,69.92 306.1,63.79 304.88,58.38 303.65,53.35 302.43,46.26 301.2,37.1" fill="#8290d6" fill-opacity="0.6"/>
<polyline points="301.2,37.1 302.17,47.27 303.14,56.01 304.11,64 305.08,73.11 306.06,81.41 307.03,88.58 308,94.55 308.97,99.37 309.94,102.59 310.91,105.27 311.88,107.9 312.85,110.26 313.82,112.18 314.8,113.85 315.77,115.28 316.74,116.43 317.71,117.36 318.68,118.14 319.65,118.84 320.62,119.5 321.59,120.14 322.56,120.71 323.54,121.24 324.51,121.76 325.48,122.3 326.45,122.88 327.42,123.55 328.39,124.34 329.36,125.1 330.33,125.7 331.31,126.22 332.28,126.7 333.25,127.14 334.22,127.56 335.19,127.95 336.16,128.33 337.13,128.69 338.1,129.05 339.07,129.4 340.05,129.75 341.02,130.09 341.99,130.41 342.96,130.73 343.93,131.03 344.9,131.33 345.87,131.63 346.84,131.92 347.81,132.23 348.79,132.53 349.76,132.85 350.73,133.19 351.7,133.53 352.67,133.87 353.64,134.21 354.61,134.53 355.58,134.83 356.55,135.11 357.53,135.34 358.5,135.55 359.47,135.75 360.44,135.95 361.41,136.15 362.38,136.33 363.35,136.51 364.32,136.68 365.29,136.85 366.27,137 367.24,137.14 368.21,137.28 369.18,137.4 370.15,137.5 371.12,137.6 372.09,137.68 373.06,137.74 374.04,137.8 375.01,137.85 375.98,137.89 376.95,137.93 377.92,137.97 378.89,138 379.86,138.03 380.83,138.06 381.8,138.09 382.78,138.11 383.75,138.14 384.72,138.16 385.69,138.18 386.66,138.21 387.63,138.23 388.6,138.26 389.57,138.29 390.54,138.32 391.52,138.35 392.49,138.39 393.46,138.42 394.43,138.47 395.4,138.52 396.37,138.57 397.34,138.64 398.31,138.74 399.28,138.85 400.26,138.98 401.23,139.12 402.2,139.26 403.17,139.41 404.14,139.56 405.11,139.71 406.08,139.85 407.05,139.98 408.02,140.09 409,140.19 409.97,140.26 410.94,140.31 411.91,140.33 412.88,140.34 413.85,140.35 414.82,140.36 415.79,140.37 416.76,140.38 417.74,140.39 418.71,140.4 419.68,140.4 420.65,140.41 421.62,140.42 422.59,140.42 423.56,140.43 424.53,140.43 425.51,140.43 426.48,140.44 427.45,140.44 428.42,140.44 429.39,140.44 430.36,140.44 431.33,140.44 432.3,140.44 433.27,140.44 434.25,140.44 435.22,140.44 436.19,140.44 437.16,140.44 438.13,141.85 439.1,142.79 440.07,142.79 441.04,142.79 442.01,142.79 442.99,142.79 443.96,142.79 444.93,142.79 445.9,142.79 446.87,142.79 447.84,142.79 448.81,142.79 449.78,142.79 450.75,142.79 451.73,142.79 452.7,142.79 453.67,142.79 454.64,142.79 455.61,150.68" fill="none" stroke="#3c9c44" stroke-width="1.3" stroke-linejoin="round"/><path d="M315.06,112.97v2.6 M320.1,117.85v2.6 M322.88,119.59v2.6 M325.05,120.76v2.6 M327.43,122.26v2.6 M333.05,125.75v2.6 M334.96,126.56v2.6 M338.73,127.98v2.6 M341.13,128.83v2.6 M344.4,129.87v2.6 M346.81,130.61v2.6 M348.94,131.28v2.6 M351.18,132.05v2.6 M357.23,133.97v2.6 M360.51,134.67v2.6 M363.5,135.24v2.6 M369.22,136.1v2.6 M374.27,136.51v2.6 M380.29,136.75v2.6 M385.16,136.87v2.6 M387.97,136.94v2.6 M390.07,137v2.6 M392.77,137.1v2.6 M397.7,137.37v2.6 M400.05,137.65v2.6 M404.62,138.34v2.6 M408.46,138.84v2.6 M410.62,139v2.6 M415.82,139.07v2.6 M421.49,139.11v2.6 M424.05,139.13v2.6 M425.86,139.13v2.6 M431.37,139.14v2.6 M435.8,139.14v2.6 M439.1,141.49v2.6 M443.7,141.49v2.6 M445.92,141.49v2.6 M450.08,141.49v2.6 M451.73,141.49v2.6" stroke="#245d28" stroke-width="0.8" opacity="0.55"/>
<polyline points="301.2,37.1 302.38,45.08 303.57,53.36 304.75,61.9 305.93,69.53 307.11,77.32 308.3,85.18 309.48,90.73 310.66,95.69 311.84,99.54 313.03,102.69 314.21,105.45 315.39,107.5 316.57,109.01 317.76,110.23 318.94,111.27 320.12,112.16 321.3,112.95 322.49,113.71 323.67,114.47 324.85,115.19 326.03,115.87 327.22,116.5 328.4,117.11 329.58,117.7 330.76,118.27 331.95,118.81 333.13,119.33 334.31,119.81 335.49,120.25 336.68,120.65 337.86,121.01 339.04,121.36 340.23,121.68 341.41,121.99 342.59,122.28 343.77,122.56 344.96,122.83 346.14,123.1 347.32,123.36 348.5,123.62 349.69,123.87 350.87,124.13 352.05,124.38 353.23,124.63 354.42,124.87 355.6,125.11 356.78,125.34 357.96,125.57 359.15,125.8 360.33,126.02 361.51,126.23 362.69,126.45 363.88,126.66 365.06,126.86 366.24,127.06 367.42,127.28 368.61,127.49 369.79,127.7 370.97,127.92 372.15,128.13 373.34,128.33 374.52,128.52 375.7,128.7 376.89,128.86 378.07,129.01 379.25,129.13 380.43,129.24 381.62,129.32 382.8,129.38 383.98,129.44 385.16,129.49 386.35,129.53 387.53,129.57 388.71,129.6 389.89,129.63 391.08,129.67 392.26,129.7 393.44,129.75 394.62,129.8 395.81,129.85 396.99,129.92 398.17,130.01 399.35,130.11 400.54,130.36 401.72,130.77 402.9,131.25 404.08,131.72 405.27,132.1 406.45,132.3 407.63,132.34 408.81,132.36 410,132.39 411.18,132.41 412.36,132.43 413.55,132.45 414.73,132.46 415.91,132.48 417.09,132.49 418.28,132.5 419.46,132.51 420.64,132.52 421.82,132.53 423.01,132.54 424.19,132.54 425.37,132.55 426.55,132.55 427.74,132.55 428.92,132.55 430.1,132.55 431.28,132.55 432.47,132.55 433.65,132.55 434.83,132.55 436.01,132.55 437.2,132.55 438.38,132.55 439.56,132.55 440.74,132.55 441.93,132.55 443.11,132.55 444.29,132.55 445.47,132.55 446.66,132.55 447.84,133.65 449.02,134.32 450.21,134.32 451.39,134.32 452.57,134.32 453.75,134.32 454.94,134.32 456.12,134.32 457.3,134.32 458.48,134.32 459.67,134.32 460.85,134.32 462.03,134.32 463.21,134.32 464.4,134.32 465.58,134.32 466.76,134.32 467.94,134.32 469.13,134.32 470.31,134.32 471.49,134.32 472.67,134.32 473.86,134.32 475.04,134.32 476.22,134.32 477.4,134.32 478.59,134.32 479.77,134.32 480.95,134.32 482.14,134.32 483.32,134.32 484.5,134.32 485.68,134.32 486.87,134.32 488.05,134.32 489.23,134.32" fill="none" stroke="#c83040" stroke-width="1.3" stroke-linejoin="round"/><path d="M315.06,105.71v2.6 M317.86,109.03v2.6 M322.19,112.22v2.6 M323.86,113.29v2.6 M327.11,115.15v2.6 M332.65,117.82v2.6 M334.73,118.67v2.6 M338.03,119.76v2.6 M343.88,121.29v2.6 M346.63,121.91v2.6 M350.64,122.78v2.6 M353.4,123.36v2.6 M358.97,124.46v2.6 M362.09,125.04v2.6 M364.49,125.46v2.6 M366.43,125.8v2.6 M371.31,126.68v2.6 M373.06,126.98v2.6 M378.08,127.71v2.6 M383.07,128.1v2.6 M385.93,128.22v2.6 M391.47,128.38v2.6 M397.39,128.65v2.6 M400.21,128.98v2.6 M402.06,129.6v2.6 M405.89,130.93v2.6 M411.17,131.11v2.6 M415.17,131.17v2.6 M420.6,131.22v2.6 M426.18,131.25v2.6 M430.11,131.25v2.6 M432.85,131.25v2.6 M435.2,131.25v2.6 M438.11,131.25v2.6 M442.19,131.25v2.6 M447.16,131.25v2.6 M451.21,133.02v2.6 M454.28,133.02v2.6 M458.38,133.02v2.6 M462.04,133.02v2.6 M467.73,133.02v2.6 M470.7,133.02v2.6 M474.62,133.02v2.6 M477.97,133.02v2.6 M480.68,133.02v2.6 M482.35,133.02v2.6 M485.31,133.02v2.6" stroke="#781c26" stroke-width="0.8" opacity="0.55"/>
<polyline points="301.2,37.1 302.43,44.85 303.65,51.04 304.88,55.53 306.1,60.42 307.33,66.42 308.56,71.87 309.78,76.71 311.01,80.79 312.24,84.38 313.46,87.61 314.69,90.46 315.91,92.86 317.14,94.96 318.37,96.88 319.59,98.71 320.82,100.42 322.05,101.89 323.27,103.14 324.5,104.27 325.72,105.21 326.95,105.97 328.18,106.66 329.4,107.31 330.63,107.91 331.85,108.45 333.08,108.92 334.31,109.33 335.53,109.66 336.76,109.91 337.99,110.11 339.21,110.28 340.44,110.43 341.66,110.57 342.89,110.69 344.12,110.8 345.34,110.91 346.57,111.03 347.79,111.16 349.02,111.3 350.25,111.46 351.47,111.64 352.7,111.83 353.93,112.03 355.15,112.24 356.38,112.45 357.6,112.66 358.83,112.86 360.06,113.07 361.28,113.27 362.51,113.46 363.74,113.63 364.96,113.8 366.19,113.94 367.41,114.08 368.64,114.21 369.87,114.33 371.09,114.45 372.32,114.56 373.54,114.67 374.77,114.78 376,114.89 377.22,115.01 378.45,115.13 379.68,115.25 380.9,115.39 382.13,115.53 383.35,115.69 384.58,115.85 385.81,116.01 387.03,116.18 388.26,116.35 389.48,116.52 390.71,116.69 391.94,116.86 393.16,117.02 394.39,117.17 395.62,117.31 396.84,117.44 398.07,117.58 399.29,117.71 400.52,117.84 401.75,117.97 402.97,118.09 404.2,118.21 405.43,118.33 406.65,118.43 407.88,118.53 409.1,118.63 410.33,118.71 411.56,118.78 412.78,118.85 414.01,118.91 415.23,118.98 416.46,119.04 417.69,119.1 418.91,119.16 420.14,119.21 421.37,119.26 422.59,119.31 423.82,119.35 425.04,119.39 426.27,119.42 427.5,119.45 428.72,119.47 429.95,119.49 431.17,119.5 432.4,119.51 433.63,119.51 434.85,119.52 436.08,119.53 437.31,119.54 438.53,119.55 439.76,119.56 440.98,119.56 442.21,119.57 443.44,119.58 444.66,119.59 445.89,119.59 447.12,119.6 448.34,119.61 449.57,119.61 450.79,119.62 452.02,119.63 453.25,119.63 454.47,119.64 455.7,119.64 456.92,119.65 458.15,119.65 459.38,119.66 460.6,119.66 461.83,119.67 463.06,119.67 464.28,119.67 465.51,119.68 466.73,119.68 467.96,119.69 469.19,119.69 470.41,119.69 471.64,119.7 472.87,119.7 474.09,119.7 475.32,119.7 476.54,119.71 477.77,119.71 479,119.71 480.22,119.71 481.45,119.72 482.67,119.72 483.9,119.72 485.13,119.72 486.35,119.72 487.58,119.72 488.81,119.72 490.03,119.72 491.26,119.72 492.48,119.72 493.71,119.73 494.94,119.73 496.16,119.73" fill="none" stroke="#2a3c8c" stroke-width="1.3" stroke-linejoin="round"/><path d="M315.06,89.94v2.6 M317.71,94.57v2.6 M322.76,101.33v2.6 M328.59,105.58v2.6 M334.49,108.09v2.6 M339.66,109.04v2.6 M345.19,109.6v2.6 M350.51,110.2v2.6 M354.43,110.82v2.6 M359.21,111.63v2.6 M362.59,112.17v2.6 M368.06,112.85v2.6 M369.94,113.04v2.6 M374.34,113.44v2.6 M376.52,113.64v2.6 M378.89,113.87v2.6 M382.86,114.32v2.6 M386.72,114.84v2.6 M390.26,115.33v2.6 M392.18,115.59v2.6 M397.19,116.18v2.6 M399.31,116.41v2.6 M402.37,116.73v2.6 M404.16,116.91v2.6 M407.31,117.19v2.6 M412.17,117.51v2.6 M416.37,117.73v2.6 M418.89,117.86v2.6 M424.02,118.06v2.6 M426.9,118.14v2.6 M430,118.19v2.6 M434.6,118.22v2.6 M437.72,118.24v2.6 M441.89,118.27v2.6 M446.21,118.3v2.6 M451.92,118.32v2.6 M457.14,118.35v2.6 M462.25,118.37v2.6 M467.68,118.39v2.6 M473.76,118.4v2.6 M478.38,118.41v2.6 M482.29,118.42v2.6 M485.07,118.42v2.6 M490.55,118.42v2.6" stroke="#192454" stroke-width="0.8" opacity="0.55"/>
<path d="M46,246.8V365.5H258.5" fill="none" stroke="#1a1a1a" stroke-width="1"/>
<path d="M43,362.9H46M43,351.58H46M43,340.26H46M43,328.94H46M43,317.62H46M43,306.3H46M43,294.98H46M43,283.66H46M43,272.34H46M43,261.02H46M43,249.7H46M48.3,365.5V368.1M65.66,365.5V368.1M83.02,365.5V368.1M100.38,365.5V368.1M117.74,365.5V368.1M135.1,365.5V368.1M152.46,365.5V368.1M169.82,365.5V368.1M187.18,365.5V368.1M204.54,365.5V368.1M221.9,365.5V368.1M239.26,365.5V368.1M256.62,365.5V368.1" stroke="#1a1a1a" stroke-width="0.9"/>
<text x="40.4" y="364.99" font-size="5.8" text-anchor="end"   fill="#333" >0.0</text>
<text x="40.4" y="353.67" font-size="5.8" text-anchor="end"   fill="#333" >0.1</text>
<text x="40.4" y="342.35" font-size="5.8" text-anchor="end"   fill="#333" >0.2</text>
<text x="40.4" y="331.03" font-size="5.8" text-anchor="end"   fill="#333" >0.3</text>
<text x="40.4" y="319.71" font-size="5.8" text-anchor="end"   fill="#333" >0.4</text>
<text x="40.4" y="308.39" font-size="5.8" text-anchor="end"   fill="#333" >0.5</text>
<text x="40.4" y="297.07" font-size="5.8" text-anchor="end"   fill="#333" >0.6</text>
<text x="40.4" y="285.75" font-size="5.8" text-anchor="end"   fill="#333" >0.7</text>
<text x="40.4" y="274.43" font-size="5.8" text-anchor="end"   fill="#333" >0.8</text>
<text x="40.4" y="263.11" font-size="5.8" text-anchor="end"   fill="#333" >0.9</text>
<text x="40.4" y="251.79" font-size="5.8" text-anchor="end"   fill="#333" >1.0</text>
<text x="48.3" y="376.79" font-size="5.8" text-anchor="middle"   fill="#333" >0</text>
<text x="65.66" y="376.79" font-size="5.8" text-anchor="middle"   fill="#333" >1</text>
<text x="83.02" y="376.79" font-size="5.8" text-anchor="middle"   fill="#333" >2</text>
<text x="100.38" y="376.79" font-size="5.8" text-anchor="middle"   fill="#333" >3</text>
<text x="117.74" y="376.79" font-size="5.8" text-anchor="middle"   fill="#333" >4</text>
<text x="135.1" y="376.79" font-size="5.8" text-anchor="middle"   fill="#333" >5</text>
<text x="152.46" y="376.79" font-size="5.8" text-anchor="middle"   fill="#333" >6</text>
<text x="169.82" y="376.79" font-size="5.8" text-anchor="middle"   fill="#333" >7</text>
<text x="187.18" y="376.79" font-size="5.8" text-anchor="middle"   fill="#333" >8</text>
<text x="204.54" y="376.79" font-size="5.8" text-anchor="middle"   fill="#333" >9</text>
<text x="221.9" y="376.79" font-size="5.8" text-anchor="middle"   fill="#333" >10</text>
<text x="239.26" y="376.79" font-size="5.8" text-anchor="middle"   fill="#333" >11</text>
<text x="256.62" y="376.79" font-size="5.8" text-anchor="middle"   fill="#333" >12</text>
<text transform="translate(26,306.5) rotate(-90)" font-size="7.6" text-anchor="middle" textLength="49.6" lengthAdjust="spacingAndGlyphs" fill="#1a1a1a" style="stroke-width:0.24px">Survival probability</text>
<text x="109.7" y="388.4" font-size="8.2"   textLength="86.4" lengthAdjust="spacingAndGlyphs" fill="#1a1a1a" style="stroke-width:0.32px">Years since second line treatment</text>
<text x="108" y="241.6" font-size="8.5" fill="#333" textLength="87.5" lengthAdjust="spacingAndGlyphs">Log-Rank test <tspan font-style="italic">P</tspan> ≤ .0001</text>
<text x="50.8" y="399.8" font-size="6.4"   textLength="35.8" lengthAdjust="spacingAndGlyphs" fill="#333" style="stroke-width:0.04px">Age category</text>
<path d="M99.3,397.6H110.4" stroke="#2d5592" stroke-width="1.1"/>
<text x="113.6" y="399.8" font-size="6.4"   textLength="16.9" lengthAdjust="spacingAndGlyphs" fill="#333" style="stroke-width:0.04px">18-60</text>
<path d="M142.7,397.6H153.9" stroke="#b8283c" stroke-width="1.1"/>
<text x="156.6" y="399.8" font-size="6.4"   textLength="17.4" lengthAdjust="spacingAndGlyphs" fill="#333" style="stroke-width:0.04px">60-69</text>
<path d="M186.2,397.6H197.3" stroke="#5aa64e" stroke-width="1.1"/>
<text x="200.5" y="399.8" font-size="6.4"   textLength="15.7" lengthAdjust="spacingAndGlyphs" fill="#333" style="stroke-width:0.04px">70-79</text>
<path d="M228.5,397.6H239.3" stroke="#d0308a" stroke-width="1.1"/>
<text x="242.3" y="399.8" font-size="6.4"   textLength="11.6" lengthAdjust="spacingAndGlyphs" fill="#333" style="stroke-width:0.04px">80+</text>
<polygon points="48.3,249.7 49.4,259.05 50.51,269.11 51.61,274.98 52.72,280.49 53.82,286.71 54.92,292.51 56.03,297.46 57.13,301.51 58.23,304.97 59.34,308.23 60.44,311.4 61.55,315.79 62.65,319.24 63.75,321.73 64.86,323.63 65.96,325.25 67.07,326.54 68.17,327.69 69.27,328.73 70.38,329.67 71.48,330.55 72.58,331.38 73.69,332.18 74.79,332.94 75.9,333.64 77,334.29 78.1,334.88 79.21,335.4 80.31,335.84 81.42,336.23 82.52,336.59 83.62,336.87 84.73,337.09 85.83,337.31 86.93,337.52 88.04,337.73 89.14,337.96 90.25,338.2 91.35,338.44 92.45,338.67 93.56,338.91 94.66,339.15 95.76,339.39 96.87,339.64 97.97,339.89 99.08,340.14 100.18,340.41 101.28,340.7 102.39,340.99 103.49,341.28 104.6,341.58 105.7,341.86 106.8,342.13 107.91,342.38 109.01,342.62 110.11,342.86 111.22,343.09 112.32,343.33 113.43,343.55 114.53,343.77 115.63,343.97 116.74,344.16 117.84,344.32 118.95,344.45 120.05,344.55 121.15,344.64 122.26,344.71 123.36,344.78 124.46,344.84 125.57,344.89 126.67,344.93 127.78,344.98 128.88,345.01 129.98,345.05 131.09,345.08 132.19,345.11 133.3,345.14 134.4,345.17 135.5,345.19 136.61,345.22 137.71,345.25 138.81,345.28 139.92,345.32 141.02,345.36 142.13,345.4 143.23,345.45 144.33,345.51 145.44,345.57 146.54,345.64 147.65,345.71 148.75,345.8 149.85,345.89 150.96,346 152.06,346.27 153.16,346.85 154.27,347.57 155.37,348.28 156.48,348.8 157.58,348.99 158.68,349.05 159.79,349.1 160.89,349.14 161.99,349.18 163.1,349.21 164.2,349.23 165.31,349.25 166.41,349.27 167.51,349.28 168.62,349.29 169.72,349.3 170.83,349.31 171.93,349.32 173.03,349.32 174.14,349.34 175.24,349.35 176.34,349.37 177.45,349.39 178.55,349.42 179.66,349.48 180.76,349.55 181.86,349.63 182.97,349.71 184.07,349.81 185.18,349.91 186.28,351.43 187.38,351.47 188.49,351.5 189.59,351.54 190.69,351.57 191.8,351.6 192.9,351.64 194.01,351.67 195.11,353.86 196.21,353.89 197.32,353.92 198.42,353.96 199.53,353.99 200.63,354.03 201.73,354.06 202.84,356.02 203.94,356.05 205.04,356.08 206.15,356.1 207.25,356.12 208.36,356.14 209.46,356.16 210.56,356.19 211.67,356.21 212.77,356.23 213.88,356.25 214.98,356.27 216.08,356.29 217.19,356.31 218.29,356.33 219.39,356.36 220.5,356.38 221.6,356.4 222.71,356.42 223.81,356.44 223.81,363.7 222.71,363.72 221.6,363.74 220.5,363.76 219.39,363.78 218.29,363.81 217.19,363.83 216.08,363.85 214.98,363.87 213.88,363.89 212.77,363.91 211.67,363.93 210.56,363.95 209.46,363.98 208.36,364 207.25,364.02 206.15,364.04 205.04,364.06 203.94,364.09 202.84,364.12 201.73,362.23 200.63,362.27 199.53,362.3 198.42,362.33 197.32,362.37 196.21,362.4 195.11,362.44 194.01,360.32 192.9,360.35 191.8,360.39 190.69,360.42 189.59,360.45 188.49,360.49 187.38,360.52 186.28,360.56 185.18,359.1 184.07,359.06 182.97,359.04 181.86,359.02 180.76,359.01 179.66,359.01 178.55,359.01 177.45,359 176.34,358.98 175.24,358.97 174.14,358.96 173.03,358.96 171.93,358.96 170.83,358.96 169.72,358.96 168.62,358.95 167.51,358.95 166.41,358.95 165.31,358.94 164.2,358.93 163.1,358.91 161.99,358.89 160.89,358.86 159.79,358.82 158.68,358.78 157.58,358.73 156.48,358.54 155.37,358.03 154.27,357.33 153.16,356.62 152.06,356.05 150.96,355.78 149.85,355.68 148.75,355.59 147.65,355.52 146.54,355.45 145.44,355.39 144.33,355.33 143.23,355.28 142.13,355.24 141.02,355.21 139.92,355.17 138.81,355.15 137.71,355.12 136.61,355.1 135.5,355.08 134.4,355.06 133.3,355.04 132.19,355.01 131.09,354.99 129.98,354.97 128.88,354.94 127.78,354.91 126.67,354.88 125.57,354.84 124.46,354.79 123.36,354.74 122.26,354.68 121.15,354.61 120.05,354.54 118.95,354.45 117.84,354.32 116.74,354.19 115.63,354.03 114.53,353.86 113.43,353.68 112.32,353.48 111.22,353.28 110.11,353.08 109.01,352.87 107.91,352.67 106.8,352.45 105.7,352.21 104.6,351.95 103.49,351.69 102.39,351.43 101.28,351.17 100.18,350.92 99.08,350.68 97.97,350.45 96.87,350.24 95.76,350.02 94.66,349.81 93.56,349.61 92.45,349.4 91.35,349.2 90.25,348.99 89.14,348.78 88.04,348.59 86.93,348.4 85.83,348.23 84.73,348.04 83.62,347.85 82.52,347.67 81.42,347.51 80.31,347.31 79.21,347.06 78.1,346.73 77,346.33 75.9,345.87 74.79,345.36 73.69,344.79 72.58,344.19 71.48,343.54 70.38,342.86 69.27,342.11 68.17,341.26 67.07,340.29 65.96,339.19 64.86,338.1 63.75,336.83 62.65,334.98 61.55,332.16 60.44,328.4 59.34,325.87 58.23,322.79 57.13,318.9 56.03,314.43 54.92,309.06 53.82,302.83 52.72,294.66 51.61,286.61 50.51,278.2 49.4,264.13 48.3,249.7" fill="#e88ccc" fill-opacity="0.55"/>
<polygon points="48.3,249.7 49.45,259.98 50.6,269.48 51.76,275.12 52.91,281.08 54.06,287.89 55.21,294.18 56.36,298.88 57.51,302.24 58.67,304.74 59.82,306.53 60.97,308.31 62.12,310.55 63.27,312.6 64.43,314.52 65.58,316.14 66.73,317.36 67.88,318.38 69.03,319.3 70.19,320.12 71.34,320.86 72.49,321.56 73.64,322.28 74.79,323.09 75.94,323.98 77.1,324.9 78.25,325.77 79.4,326.53 80.55,327.17 81.7,327.78 82.86,328.36 84.01,328.83 85.16,329.25 86.31,329.63 87.46,329.99 88.62,330.32 89.77,330.61 90.92,330.88 92.07,331.11 93.22,331.33 94.37,331.53 95.53,331.73 96.68,331.94 97.83,332.15 98.98,332.38 100.13,332.62 101.29,332.86 102.44,333.11 103.59,333.36 104.74,333.62 105.89,333.89 107.05,334.16 108.2,334.45 109.35,334.76 110.5,335.09 111.65,335.43 112.8,335.79 113.96,336.14 115.11,336.49 116.26,336.84 117.41,337.19 118.56,337.57 119.72,337.96 120.87,338.36 122.02,338.76 123.17,339.15 124.32,339.52 125.48,339.87 126.63,340.18 127.78,340.46 128.93,340.68 130.08,340.85 131.23,340.95 132.39,341.02 133.54,341.09 134.69,341.15 135.84,341.21 136.99,341.26 138.15,341.31 139.3,341.36 140.45,341.4 141.6,341.43 142.75,341.47 143.91,341.5 145.06,341.53 146.21,341.55 147.36,341.57 148.51,341.59 149.66,341.61 150.82,341.62 151.97,341.63 153.12,341.64 154.27,341.65 155.42,341.66 156.58,341.66 157.73,341.67 158.88,341.67 160.03,341.68 161.18,341.68 162.34,341.69 163.49,341.69 164.64,341.69 165.79,341.69 166.94,341.69 168.09,341.7 169.25,341.7 170.4,341.69 171.55,341.69 172.7,341.69 173.85,341.69 175.01,341.68 176.16,341.68 177.31,341.67 178.46,341.66 179.61,341.65 180.77,341.64 181.92,341.63 183.07,341.62 184.22,341.61 185.37,341.6 186.52,341.59 187.68,341.58 188.83,341.57 189.98,341.56 191.13,341.55 192.28,341.54 193.44,341.53 194.59,341.52 195.74,341.51 196.89,341.5 198.04,341.49 199.2,341.48 200.35,341.47 201.5,341.46 202.65,341.45 203.8,341.44 204.95,341.43 206.11,341.42 207.26,341.41 208.41,341.4 209.56,341.39 210.71,341.38 211.87,341.37 213.02,341.36 214.17,341.35 215.32,341.34 216.47,341.33 217.63,341.32 218.78,341.31 219.93,341.3 221.08,341.29 222.23,341.28 223.38,341.27 224.54,341.26 225.69,341.25 226.84,341.24 227.99,341.23 229.14,341.22 230.3,341.21 231.45,341.2 231.45,350.19 230.3,350.18 229.14,350.17 227.99,350.16 226.84,350.15 225.69,350.14 224.54,350.13 223.38,350.12 222.23,350.11 221.08,350.1 219.93,350.09 218.78,350.08 217.63,350.07 216.47,350.06 215.32,350.05 214.17,350.04 213.02,350.03 211.87,350.02 210.71,350.01 209.56,350 208.41,349.98 207.26,349.97 206.11,349.96 204.95,349.95 203.8,349.94 202.65,349.93 201.5,349.92 200.35,349.91 199.2,349.9 198.04,349.89 196.89,349.88 195.74,349.87 194.59,349.86 193.44,349.85 192.28,349.84 191.13,349.83 189.98,349.82 188.83,349.81 187.68,349.8 186.52,349.79 185.37,349.78 184.22,349.77 183.07,349.76 181.92,349.75 180.77,349.74 179.61,349.73 178.46,349.72 177.31,349.71 176.16,349.7 175.01,349.68 173.85,349.67 172.7,349.65 171.55,349.63 170.4,349.61 169.25,349.59 168.09,349.57 166.94,349.55 165.79,349.53 164.64,349.51 163.49,349.49 162.34,349.46 161.18,349.44 160.03,349.42 158.88,349.39 157.73,349.37 156.58,349.34 155.42,349.31 154.27,349.29 153.12,349.26 151.97,349.23 150.82,349.2 149.66,349.16 148.51,349.13 147.36,349.09 146.21,349.05 145.06,349 143.91,348.96 142.75,348.91 141.6,348.85 140.45,348.79 139.3,348.73 138.15,348.67 136.99,348.6 135.84,348.52 134.69,348.45 133.54,348.37 132.39,348.28 131.23,348.19 130.08,348.07 128.93,347.88 127.78,347.63 126.63,347.34 125.48,347 124.32,346.63 123.17,346.24 122.02,345.83 120.87,345.41 119.72,344.99 118.56,344.58 117.41,344.19 116.26,343.84 115.11,343.49 113.96,343.14 112.8,342.79 111.65,342.43 110.5,342.09 109.35,341.76 108.2,341.45 107.05,341.16 105.89,340.89 104.74,340.62 103.59,340.36 102.44,340.11 101.29,339.86 100.13,339.62 98.98,339.38 97.83,339.15 96.68,338.94 95.53,338.73 94.37,338.53 93.22,338.33 92.07,338.11 90.92,337.88 89.77,337.61 88.62,337.32 87.46,336.99 86.31,336.63 85.16,336.25 84.01,335.83 82.86,335.39 81.7,335.01 80.55,334.6 79.4,334.15 78.25,333.59 77.1,332.92 75.94,332.2 74.79,331.51 73.64,330.91 72.49,330.38 71.34,329.88 70.19,329.34 69.03,328.71 67.88,328 66.73,327.17 65.58,326.17 64.43,324.87 63.27,323.29 62.12,321.57 60.97,319.66 59.82,318.21 58.67,316.74 57.51,314.24 56.36,310.88 55.21,306.18 54.06,299.89 52.91,292.04 51.76,284.09 50.6,276.46 49.45,263.96 48.3,249.7" fill="#7fd27f" fill-opacity="0.6"/>
<polygon points="48.3,249.7 49.41,259.31 50.51,267.81 51.62,273.51 52.72,278.95 53.83,284.78 54.94,288.77 56.04,291.97 57.15,294.9 58.25,297.54 59.36,299.92 60.47,302.05 61.57,304.13 62.68,306.34 63.78,308.35 64.89,309.87 66,311.12 67.1,312.19 68.21,313.16 69.31,314.03 70.42,314.85 71.53,315.65 72.63,316.44 73.74,317.19 74.84,317.92 75.95,318.62 77.06,319.28 78.16,319.92 79.27,320.5 80.37,321.03 81.48,321.53 82.59,321.98 83.69,322.31 84.8,322.56 85.9,322.77 87.01,322.96 88.12,323.14 89.22,323.32 90.33,323.5 91.43,323.67 92.54,323.83 93.65,323.98 94.75,324.14 95.86,324.29 96.96,324.45 98.07,324.6 99.18,324.77 100.28,324.94 101.39,325.11 102.49,325.29 103.6,325.46 104.71,325.64 105.81,325.81 106.92,325.98 108.02,326.14 109.13,326.29 110.24,326.45 111.34,326.61 112.45,326.76 113.56,326.92 114.66,327.06 115.77,327.21 116.87,327.34 117.98,327.46 119.09,327.57 120.19,327.67 121.3,327.77 122.4,327.86 123.51,327.95 124.62,328.04 125.72,328.12 126.83,328.21 127.93,328.29 129.04,328.37 130.15,328.45 131.25,328.53 132.36,328.6 133.46,328.67 134.57,328.74 135.68,328.8 136.78,328.86 137.89,328.92 138.99,328.97 140.1,329.02 141.21,329.07 142.31,329.11 143.42,329.15 144.52,329.19 145.63,329.22 146.74,329.25 147.84,329.27 148.95,329.29 150.05,329.32 151.16,329.34 152.27,329.36 153.37,329.39 154.48,329.41 155.58,329.43 156.69,329.45 157.8,329.47 158.9,329.49 160.01,329.51 161.11,329.53 162.22,329.54 163.33,329.56 164.43,329.58 165.54,329.59 166.64,329.61 167.75,329.62 168.86,329.63 169.96,329.64 171.07,329.65 172.17,329.66 173.28,329.67 174.39,329.68 175.49,329.68 176.6,329.69 177.7,329.69 178.81,329.69 179.92,329.69 181.02,329.69 182.13,329.69 183.23,329.69 184.34,329.69 185.45,329.69 186.55,329.69 187.66,329.69 188.76,329.69 189.87,329.69 190.98,329.69 192.08,329.69 193.19,329.69 194.29,329.69 195.4,329.69 196.51,329.69 197.61,329.69 198.72,329.69 199.82,329.69 200.93,329.69 202.04,329.69 203.14,329.69 204.25,329.69 205.35,329.69 206.46,329.69 207.57,329.69 208.67,329.69 209.78,329.69 210.88,329.69 211.99,329.69 213.1,329.69 214.2,329.69 215.31,329.69 216.41,329.69 217.52,329.69 218.63,329.69 219.73,329.69 220.84,329.69 221.94,329.69 223.05,329.69 224.16,329.69 224.16,337.69 223.05,337.69 221.94,337.69 220.84,337.69 219.73,337.69 218.63,337.69 217.52,337.69 216.41,337.69 215.31,337.69 214.2,337.69 213.1,337.69 211.99,337.69 210.88,337.69 209.78,337.69 208.67,337.69 207.57,337.69 206.46,337.69 205.35,337.69 204.25,337.69 203.14,337.69 202.04,337.69 200.93,337.69 199.82,337.69 198.72,337.69 197.61,337.69 196.51,337.69 195.4,337.69 194.29,337.69 193.19,337.69 192.08,337.69 190.98,337.69 189.87,337.69 188.76,337.69 187.66,337.69 186.55,337.69 185.45,337.69 184.34,337.69 183.23,337.69 182.13,337.69 181.02,337.69 179.92,337.69 178.81,337.69 177.7,337.69 176.6,337.69 175.49,337.68 174.39,337.68 173.28,337.67 172.17,337.66 171.07,337.65 169.96,337.64 168.86,337.63 167.75,337.62 166.64,337.61 165.54,337.59 164.43,337.58 163.33,337.56 162.22,337.54 161.11,337.53 160.01,337.51 158.9,337.49 157.8,337.47 156.69,337.45 155.58,337.43 154.48,337.41 153.37,337.39 152.27,337.36 151.16,337.34 150.05,337.32 148.95,337.29 147.84,337.27 146.74,337.25 145.63,337.22 144.52,337.19 143.42,337.15 142.31,337.11 141.21,337.07 140.1,337.02 138.99,336.97 137.89,336.92 136.78,336.86 135.68,336.8 134.57,336.74 133.46,336.67 132.36,336.6 131.25,336.53 130.15,336.45 129.04,336.37 127.93,336.29 126.83,336.21 125.72,336.12 124.62,336.04 123.51,335.95 122.4,335.86 121.3,335.77 120.19,335.67 119.09,335.57 117.98,335.46 116.87,335.34 115.77,335.21 114.66,335.06 113.56,334.92 112.45,334.76 111.34,334.61 110.24,334.45 109.13,334.29 108.02,334.14 106.92,333.98 105.81,333.81 104.71,333.64 103.6,333.46 102.49,333.29 101.39,333.11 100.28,332.94 99.18,332.77 98.07,332.6 96.96,332.45 95.86,332.29 94.75,332.14 93.65,331.98 92.54,331.83 91.43,331.67 90.33,331.5 89.22,331.32 88.12,331.14 87.01,330.96 85.9,330.77 84.8,330.56 83.69,330.31 82.59,330 81.48,329.62 80.37,329.19 79.27,328.72 78.16,328.19 77.06,327.63 75.95,327.03 74.84,326.39 73.74,325.73 72.63,325.04 71.53,324.32 70.42,323.58 69.31,322.82 68.21,322.01 67.1,321.11 66,320.1 64.89,318.98 63.78,317.62 62.68,315.77 61.57,313.71 60.47,311.79 59.36,309.83 58.25,307.54 57.15,304.9 56.04,301.97 54.94,298.77 53.83,294.78 52.72,288.04 51.62,281.33 50.51,274.36 49.41,263.14 48.3,249.7" fill="#e48a8a" fill-opacity="0.55"/>
<polygon points="48.3,249.7 49.53,256.47 50.76,262.01 51.99,266.59 53.22,271.19 54.45,275.91 55.68,280.02 56.91,283.65 58.14,286.9 59.36,289.57 60.59,291.85 61.82,293.9 63.05,295.76 64.28,297.38 65.51,298.83 66.74,300.19 67.97,301.53 69.2,302.77 70.43,303.81 71.66,304.68 72.89,305.45 74.12,306.15 75.35,306.81 76.58,307.44 77.81,308.03 79.03,308.55 80.26,308.98 81.49,309.31 82.72,309.59 83.95,309.86 85.18,310.14 86.41,310.42 87.64,310.69 88.87,310.94 90.1,311.17 91.33,311.38 92.56,311.6 93.79,311.8 95.02,311.99 96.25,312.17 97.48,312.33 98.71,312.48 99.93,312.62 101.16,312.74 102.39,312.85 103.62,312.96 104.85,313.06 106.08,313.17 107.31,313.28 108.54,313.4 109.77,313.52 111,313.64 112.23,313.77 113.46,313.89 114.69,314.03 115.92,314.16 117.15,314.31 118.38,314.48 119.6,314.65 120.83,314.87 122.06,315.15 123.29,315.38 124.52,315.55 125.75,315.71 126.98,315.86 128.21,316 129.44,316.14 130.67,316.27 131.9,316.39 133.13,316.5 134.36,316.61 135.59,316.72 136.82,316.82 138.05,316.92 139.28,317.02 140.5,317.11 141.73,317.2 142.96,317.3 144.19,317.39 145.42,317.48 146.65,317.58 147.88,317.67 149.11,317.76 150.34,317.85 151.57,317.93 152.8,318.01 154.03,318.1 155.26,318.17 156.49,318.25 157.72,318.33 158.95,318.4 160.17,318.48 161.4,318.56 162.63,318.63 163.86,318.71 165.09,318.78 166.32,318.86 167.55,318.94 168.78,319.02 170.01,319.11 171.24,319.21 172.47,319.32 173.7,319.43 174.93,319.54 176.16,319.65 177.39,319.73 178.62,319.8 179.85,319.84 181.07,319.84 182.3,319.84 183.53,319.84 184.76,319.85 185.99,319.85 187.22,319.85 188.45,319.85 189.68,319.85 190.91,319.85 192.14,319.85 193.37,319.85 194.6,319.85 195.83,319.85 197.06,319.85 198.29,319.85 199.52,319.85 200.74,319.85 201.97,319.85 203.2,319.84 204.43,319.84 205.66,319.84 206.89,319.84 208.12,319.84 209.35,319.84 210.58,319.84 211.81,319.83 213.04,319.83 214.27,319.83 215.5,319.83 216.73,319.82 217.96,319.82 219.19,319.82 220.42,319.82 221.64,319.81 222.87,319.81 224.1,319.81 225.33,319.81 226.56,319.8 227.79,319.8 229.02,319.8 230.25,319.79 231.48,319.79 232.71,319.79 233.94,319.78 235.17,319.78 236.4,319.78 237.63,319.77 238.86,319.77 240.09,319.77 241.31,319.76 242.54,319.76 243.77,319.75 243.77,329.75 242.54,329.75 241.31,329.74 240.09,329.74 238.86,329.73 237.63,329.73 236.4,329.73 235.17,329.72 233.94,329.72 232.71,329.71 231.48,329.71 230.25,329.7 229.02,329.7 227.79,329.69 226.56,329.69 225.33,329.69 224.1,329.68 222.87,329.68 221.64,329.67 220.42,329.67 219.19,329.66 217.96,329.65 216.73,329.65 215.5,329.64 214.27,329.64 213.04,329.63 211.81,329.63 210.58,329.62 209.35,329.62 208.12,329.61 206.89,329.6 205.66,329.6 204.43,329.59 203.2,329.58 201.97,329.58 200.74,329.57 199.52,329.56 198.29,329.56 197.06,329.55 195.83,329.54 194.6,329.53 193.37,329.53 192.14,329.52 190.91,329.51 189.68,329.5 188.45,329.49 187.22,329.49 185.99,329.48 184.76,329.47 183.53,329.46 182.3,329.45 181.07,329.44 179.85,329.43 178.62,329.38 177.39,329.31 176.16,329.21 174.93,329.1 173.7,328.98 172.47,328.86 171.24,328.74 170.01,328.64 168.78,328.55 167.55,328.46 166.32,328.37 165.09,328.28 163.86,328.2 162.63,328.11 161.4,328.03 160.17,327.95 158.95,327.86 157.72,327.78 156.49,327.7 155.26,327.61 154.03,327.52 152.8,327.44 151.57,327.35 150.34,327.25 149.11,327.16 147.88,327.06 146.65,326.96 145.42,326.86 144.19,326.76 142.96,326.66 141.73,326.56 140.5,326.46 139.28,326.35 138.05,326.25 136.82,326.14 135.59,326.03 134.36,325.92 133.13,325.8 131.9,325.68 130.67,325.55 129.44,325.41 128.21,325.27 126.98,325.12 125.75,324.96 124.52,324.79 123.29,324.61 122.06,324.37 120.83,324.09 119.6,323.86 118.38,323.68 117.15,323.51 115.92,323.36 114.69,323.21 113.46,323.07 112.23,322.94 111,322.81 109.77,322.69 108.54,322.56 107.31,322.43 106.08,322.31 104.85,322.2 103.62,322.09 102.39,321.98 101.16,321.87 99.93,321.74 98.71,321.6 97.48,321.44 96.25,321.27 95.02,321.08 93.79,320.89 92.56,320.68 91.33,320.46 90.1,320.24 88.87,320.01 87.64,319.75 86.41,319.48 85.18,319.19 83.95,318.91 82.72,318.63 81.49,318.34 80.26,318.01 79.03,317.58 77.81,317.05 76.58,316.45 75.35,315.81 74.12,315.15 72.89,314.45 71.66,313.68 70.43,312.81 69.2,311.77 67.97,310.53 66.74,309.19 65.51,307.83 64.28,306.38 63.05,304.76 61.82,302.9 60.59,300.85 59.36,298.57 58.14,295.79 56.91,292.3 55.68,288.43 54.45,284.09 53.22,278.94 51.99,273.28 50.76,267.63 49.53,260.01 48.3,249.7" fill="#8290d6" fill-opacity="0.6"/>
<polyline points="48.3,249.7 49.4,261.59 50.51,273.65 51.61,280.8 52.72,287.58 53.82,294.77 54.92,300.78 56.03,305.95 57.13,310.2 58.23,313.88 59.34,317.05 60.44,319.9 61.55,323.98 62.65,327.11 63.75,329.28 64.86,330.86 65.96,332.22 67.07,333.42 68.17,334.47 69.27,335.42 70.38,336.27 71.48,337.05 72.58,337.79 73.69,338.49 74.79,339.15 75.9,339.76 77,340.31 78.1,340.8 79.21,341.23 80.31,341.58 81.42,341.87 82.52,342.13 83.62,342.36 84.73,342.57 85.83,342.77 86.93,342.96 88.04,343.16 89.14,343.37 90.25,343.59 91.35,343.82 92.45,344.04 93.56,344.26 94.66,344.48 95.76,344.71 96.87,344.94 97.97,345.17 99.08,345.41 100.18,345.67 101.28,345.94 102.39,346.21 103.49,346.49 104.6,346.77 105.7,347.03 106.8,347.29 107.91,347.53 109.01,347.75 110.11,347.97 111.22,348.19 112.32,348.4 113.43,348.62 114.53,348.82 115.63,349 116.74,349.17 117.84,349.32 118.95,349.45 120.05,349.55 121.15,349.63 122.26,349.7 123.36,349.76 124.46,349.81 125.57,349.86 126.67,349.91 127.78,349.94 128.88,349.98 129.98,350.01 131.09,350.04 132.19,350.06 133.3,350.09 134.4,350.11 135.5,350.13 136.61,350.16 137.71,350.19 138.81,350.21 139.92,350.25 141.02,350.28 142.13,350.32 143.23,350.37 144.33,350.42 145.44,350.48 146.54,350.54 147.65,350.61 148.75,350.7 149.85,350.79 150.96,350.89 152.06,351.16 153.16,351.73 154.27,352.45 155.37,353.15 156.48,353.67 157.58,353.86 158.68,353.91 159.79,353.96 160.89,354 161.99,354.03 163.1,354.06 164.2,354.08 165.31,354.09 166.41,354.11 167.51,354.12 168.62,354.12 169.72,354.13 170.83,354.13 171.93,354.14 173.03,354.14 174.14,354.15 175.24,354.16 176.34,354.17 177.45,354.19 178.55,354.22 179.66,354.24 180.76,354.28 181.86,354.32 182.97,354.37 184.07,354.43 185.18,354.5 186.28,355.99 187.38,355.99 188.49,355.99 189.59,355.99 190.69,355.99 191.8,355.99 192.9,355.99 194.01,355.99 195.11,358.15 196.21,358.15 197.32,358.15 198.42,358.15 199.53,358.15 200.63,358.15 201.73,358.15 202.84,360.07 203.94,360.07 205.04,360.07 206.15,360.07 207.25,360.07 208.36,360.07 209.46,360.07 210.56,360.07 211.67,360.07 212.77,360.07 213.88,360.07 214.98,360.07 216.08,360.07 217.19,360.07 218.29,360.07 219.39,360.07 220.5,360.07 221.6,360.07 222.71,360.07 223.81,360.07" fill="none" stroke="#d0308a" stroke-width="1.3" stroke-linejoin="round"/><path d="M62.19,324.7v2.6 M67.65,332.69v2.6 M70.44,335.01v2.6 M73.92,337.33v2.6 M78.31,339.59v2.6 M81.98,340.71v2.6 M85.69,341.44v2.6 M89.83,342.21v2.6 M92.94,342.83v2.6 M94.77,343.2v2.6 M98.55,344v2.6 M103.89,345.29v2.6 M109.09,346.46v2.6 M114.23,347.46v2.6 M118.09,348.05v2.6 M120.45,348.28v2.6 M124.12,348.5v2.6 M128.74,348.67v2.6 M131.54,348.75v2.6 M137.65,348.88v2.6 M141.8,349.01v2.6 M146.92,349.27v2.6 M152.55,350.09v2.6 M156.19,352.26v2.6 M160.43,352.69v2.6 M163,352.76v2.6 M168.13,352.82v2.6 M169.8,352.83v2.6 M171.36,352.83v2.6 M177.37,352.89v2.6 M179.22,352.93v2.6 M181.4,353v2.6 M185.17,353.2v2.6 M188.62,354.69v2.6 M194.63,354.69v2.6 M199.56,356.85v2.6 M201.22,356.85v2.6 M202.76,358.77v2.6 M208.44,358.77v2.6 M210.32,358.77v2.6 M213.12,358.77v2.6 M215.73,358.77v2.6 M219.7,358.77v2.6" stroke="#7c1c52" stroke-width="0.8" opacity="0.55"/>
<polyline points="48.3,249.7 49.45,261.97 50.6,272.97 51.76,279.6 52.91,286.56 54.06,293.89 55.21,300.18 56.36,304.88 57.51,308.24 58.67,310.74 59.82,312.37 60.97,313.99 62.12,316.06 63.27,317.95 64.43,319.69 65.58,321.16 66.73,322.26 67.88,323.19 69.03,324.01 70.19,324.73 71.34,325.37 72.49,325.97 73.64,326.6 74.79,327.3 75.94,328.09 77.1,328.91 78.25,329.68 79.4,330.34 80.55,330.88 81.7,331.4 82.86,331.88 84.01,332.33 85.16,332.75 86.31,333.13 87.46,333.49 88.62,333.82 89.77,334.11 90.92,334.38 92.07,334.61 93.22,334.83 94.37,335.03 95.53,335.23 96.68,335.44 97.83,335.65 98.98,335.88 100.13,336.12 101.29,336.36 102.44,336.61 103.59,336.86 104.74,337.12 105.89,337.39 107.05,337.66 108.2,337.95 109.35,338.26 110.5,338.59 111.65,338.93 112.8,339.29 113.96,339.64 115.11,339.99 116.26,340.34 117.41,340.69 118.56,341.08 119.72,341.48 120.87,341.88 122.02,342.29 123.17,342.69 124.32,343.08 125.48,343.44 126.63,343.76 127.78,344.05 128.93,344.28 130.08,344.46 131.23,344.57 132.39,344.65 133.54,344.73 134.69,344.8 135.84,344.87 136.99,344.93 138.15,344.99 139.3,345.04 140.45,345.1 141.6,345.14 142.75,345.19 143.91,345.23 145.06,345.27 146.21,345.3 147.36,345.33 148.51,345.36 149.66,345.39 150.82,345.41 151.97,345.43 153.12,345.45 154.27,345.47 155.42,345.48 156.58,345.5 157.73,345.52 158.88,345.53 160.03,345.55 161.18,345.56 162.34,345.57 163.49,345.59 164.64,345.6 165.79,345.61 166.94,345.62 168.09,345.63 169.25,345.64 170.4,345.65 171.55,345.66 172.7,345.67 173.85,345.68 175.01,345.68 176.16,345.69 177.31,345.69 178.46,345.69 179.61,345.69 180.77,345.69 181.92,345.69 183.07,345.69 184.22,345.69 185.37,345.69 186.52,345.69 187.68,345.69 188.83,345.69 189.98,345.69 191.13,345.69 192.28,345.69 193.44,345.69 194.59,345.69 195.74,345.69 196.89,345.69 198.04,345.69 199.2,345.69 200.35,345.69 201.5,345.69 202.65,345.69 203.8,345.69 204.95,345.69 206.11,345.69 207.26,345.69 208.41,345.69 209.56,345.69 210.71,345.69 211.87,345.69 213.02,345.69 214.17,345.69 215.32,345.69 216.47,345.69 217.63,345.69 218.78,345.69 219.93,345.69 221.08,345.69 222.23,345.69 223.38,345.69 224.54,345.69 225.69,345.69 226.84,345.69 227.99,345.69 229.14,345.69 230.3,345.69 231.45,345.69" fill="none" stroke="#3c9c44" stroke-width="1.3" stroke-linejoin="round"/><path d="M62.19,314.88v2.6 M66.71,320.94v2.6 M68.37,322.25v2.6 M72.8,324.83v2.6 M74.39,325.74v2.6 M78.29,328.4v2.6 M82.27,330.33v2.6 M87.92,332.32v2.6 M91.18,333.13v2.6 M95.85,333.99v2.6 M98.43,334.47v2.6 M101.1,335.02v2.6 M103.62,335.57v2.6 M107.9,336.58v2.6 M110.94,337.42v2.6 M112.59,337.92v2.6 M117.75,339.51v2.6 M121.61,340.85v2.6 M123.54,341.52v2.6 M125.08,342.01v2.6 M127.91,342.78v2.6 M131.48,343.29v2.6 M137.11,343.64v2.6 M142.8,343.89v2.6 M146.93,344.02v2.6 M150.5,344.1v2.6 M155.75,344.19v2.6 M161.14,344.26v2.6 M162.94,344.28v2.6 M164.58,344.3v2.6 M168.4,344.34v2.6 M170.81,344.36v2.6 M173.67,344.37v2.6 M179.27,344.39v2.6 M185.3,344.39v2.6 M190.49,344.39v2.6 M194.54,344.39v2.6 M199.43,344.39v2.6 M204.3,344.39v2.6 M206.68,344.39v2.6 M210.53,344.39v2.6 M212.68,344.39v2.6 M215.45,344.39v2.6 M217.8,344.39v2.6 M222.67,344.39v2.6 M226.98,344.39v2.6" stroke="#245d28" stroke-width="0.8" opacity="0.55"/>
<polyline points="48.3,249.7 49.41,261.23 50.51,271.08 51.62,277.42 52.72,283.49 53.83,289.78 54.94,293.77 56.04,296.97 57.15,299.9 58.25,302.54 59.36,304.88 60.47,306.92 61.57,308.92 62.68,311.05 63.78,312.98 64.89,314.43 66,315.61 67.1,316.65 68.21,317.58 69.31,318.43 70.42,319.22 71.53,319.99 72.63,320.74 73.74,321.46 74.84,322.16 75.95,322.82 77.06,323.46 78.16,324.06 79.27,324.61 80.37,325.11 81.48,325.58 82.59,325.99 83.69,326.31 84.8,326.56 85.9,326.77 87.01,326.96 88.12,327.14 89.22,327.32 90.33,327.5 91.43,327.67 92.54,327.83 93.65,327.98 94.75,328.14 95.86,328.29 96.96,328.45 98.07,328.6 99.18,328.77 100.28,328.94 101.39,329.11 102.49,329.29 103.6,329.46 104.71,329.64 105.81,329.81 106.92,329.98 108.02,330.14 109.13,330.29 110.24,330.45 111.34,330.61 112.45,330.76 113.56,330.92 114.66,331.06 115.77,331.21 116.87,331.34 117.98,331.46 119.09,331.57 120.19,331.67 121.3,331.77 122.4,331.86 123.51,331.95 124.62,332.04 125.72,332.12 126.83,332.21 127.93,332.29 129.04,332.37 130.15,332.45 131.25,332.53 132.36,332.6 133.46,332.67 134.57,332.74 135.68,332.8 136.78,332.86 137.89,332.92 138.99,332.97 140.1,333.02 141.21,333.07 142.31,333.11 143.42,333.15 144.52,333.19 145.63,333.22 146.74,333.25 147.84,333.27 148.95,333.29 150.05,333.32 151.16,333.34 152.27,333.36 153.37,333.39 154.48,333.41 155.58,333.43 156.69,333.45 157.8,333.47 158.9,333.49 160.01,333.51 161.11,333.53 162.22,333.54 163.33,333.56 164.43,333.58 165.54,333.59 166.64,333.61 167.75,333.62 168.86,333.63 169.96,333.64 171.07,333.65 172.17,333.66 173.28,333.67 174.39,333.68 175.49,333.68 176.6,333.69 177.7,333.69 178.81,333.69 179.92,333.69 181.02,333.69 182.13,333.69 183.23,333.69 184.34,333.69 185.45,333.69 186.55,333.69 187.66,333.69 188.76,333.69 189.87,333.69 190.98,333.69 192.08,333.69 193.19,333.69 194.29,333.69 195.4,333.69 196.51,333.69 197.61,333.69 198.72,333.69 199.82,333.69 200.93,333.69 202.04,333.69 203.14,333.69 204.25,333.69 205.35,333.69 206.46,333.69 207.57,333.69 208.67,333.69 209.78,333.69 210.88,333.69 211.99,333.69 213.1,333.69 214.2,333.69 215.31,333.69 216.41,333.69 217.52,333.69 218.63,333.69 219.73,333.69 220.84,333.69 221.94,333.69 223.05,333.69 224.16,333.69" fill="none" stroke="#c83040" stroke-width="1.3" stroke-linejoin="round"/><path d="M62.19,308.8v2.6 M64.92,313.16v2.6 M70.4,317.9v2.6 M73.73,320.16v2.6 M76.16,321.65v2.6 M79.2,323.28v2.6 M84.87,325.27v2.6 M86.53,325.58v2.6 M91.35,326.35v2.6 M96.82,327.13v2.6 M101.38,327.81v2.6 M103.86,328.2v2.6 M105.69,328.49v2.6 M109.09,328.99v2.6 M114.62,329.76v2.6 M120.09,330.37v2.6 M126.02,330.85v2.6 M131.49,331.24v2.6 M136.6,331.55v2.6 M138.2,331.63v2.6 M143.96,331.87v2.6 M145.88,331.93v2.6 M149.73,332.01v2.6 M153.62,332.09v2.6 M156.93,332.16v2.6 M158.69,332.19v2.6 M161.83,332.24v2.6 M166.58,332.3v2.6 M172.58,332.36v2.6 M175.47,332.38v2.6 M178.04,332.39v2.6 M183.17,332.39v2.6 M187.78,332.39v2.6 M193.66,332.39v2.6 M197.91,332.39v2.6 M202.24,332.39v2.6 M205.61,332.39v2.6 M210.3,332.39v2.6 M214.56,332.39v2.6 M216.16,332.39v2.6 M219.12,332.39v2.6 M222.56,332.39v2.6" stroke="#781c26" stroke-width="0.8" opacity="0.55"/>
<polyline points="48.3,249.7 49.53,258.24 50.76,264.82 51.99,269.93 53.22,275.07 54.45,280 55.68,284.22 56.91,287.97 58.14,291.34 59.36,294.07 60.59,296.35 61.82,298.4 63.05,300.26 64.28,301.88 65.51,303.33 66.74,304.69 67.97,306.03 69.2,307.27 70.43,308.31 71.66,309.18 72.89,309.95 74.12,310.65 75.35,311.31 76.58,311.95 77.81,312.54 79.03,313.07 80.26,313.49 81.49,313.83 82.72,314.11 83.95,314.39 85.18,314.67 86.41,314.95 87.64,315.22 88.87,315.47 90.1,315.7 91.33,315.92 92.56,316.14 93.79,316.34 95.02,316.54 96.25,316.72 97.48,316.89 98.71,317.04 99.93,317.18 101.16,317.3 102.39,317.42 103.62,317.53 104.85,317.63 106.08,317.74 107.31,317.85 108.54,317.98 109.77,318.1 111,318.23 112.23,318.35 113.46,318.48 114.69,318.62 115.92,318.76 117.15,318.91 118.38,319.08 119.6,319.26 120.83,319.48 122.06,319.76 123.29,320 124.52,320.17 125.75,320.33 126.98,320.49 128.21,320.64 129.44,320.77 130.67,320.91 131.9,321.03 133.13,321.15 134.36,321.27 135.59,321.38 136.82,321.48 138.05,321.58 139.28,321.69 140.5,321.78 141.73,321.88 142.96,321.98 144.19,322.07 145.42,322.17 146.65,322.27 147.88,322.37 149.11,322.46 150.34,322.55 151.57,322.64 152.8,322.73 154.03,322.81 155.26,322.89 156.49,322.97 157.72,323.05 158.95,323.13 160.17,323.21 161.4,323.29 162.63,323.37 163.86,323.45 165.09,323.53 166.32,323.62 167.55,323.7 168.78,323.78 170.01,323.87 171.24,323.97 172.47,324.09 173.7,324.21 174.93,324.32 176.16,324.43 177.39,324.52 178.62,324.59 179.85,324.63 181.07,324.64 182.3,324.65 183.53,324.65 184.76,324.66 185.99,324.66 187.22,324.67 188.45,324.67 189.68,324.68 190.91,324.68 192.14,324.68 193.37,324.69 194.6,324.69 195.83,324.69 197.06,324.7 198.29,324.7 199.52,324.71 200.74,324.71 201.97,324.71 203.2,324.71 204.43,324.72 205.66,324.72 206.89,324.72 208.12,324.72 209.35,324.73 210.58,324.73 211.81,324.73 213.04,324.73 214.27,324.73 215.5,324.74 216.73,324.74 217.96,324.74 219.19,324.74 220.42,324.74 221.64,324.74 222.87,324.74 224.1,324.74 225.33,324.75 226.56,324.75 227.79,324.75 229.02,324.75 230.25,324.75 231.48,324.75 232.71,324.75 233.94,324.75 235.17,324.75 236.4,324.75 237.63,324.75 238.86,324.75 240.09,324.75 241.31,324.75 242.54,324.75 243.77,324.75" fill="none" stroke="#2a3c8c" stroke-width="1.3" stroke-linejoin="round"/><path d="M62.19,297.68v2.6 M66.53,303.15v2.6 M68.2,304.97v2.6 M72.87,308.64v2.6 M74.43,309.52v2.6 M77.72,311.2v2.6 M80.21,312.17v2.6 M85.66,313.48v2.6 M88.28,314.06v2.6 M93.05,314.92v2.6 M95.8,315.35v2.6 M98.03,315.66v2.6 M100.98,315.99v2.6 M103.52,316.22v2.6 M105.66,316.4v2.6 M110.56,316.88v2.6 M114.89,317.34v2.6 M119.57,317.95v2.6 M125.52,319v2.6 M130.93,319.63v2.6 M135.75,320.09v2.6 M139.61,320.41v2.6 M141.98,320.6v2.6 M146.95,320.99v2.6 M152.94,321.44v2.6 M159.02,321.84v2.6 M161.57,322v2.6 M165.25,322.24v2.6 M168.69,322.48v2.6 M172.44,322.79v2.6 M177.54,323.23v2.6 M182.15,323.35v2.6 M186.46,323.36v2.6 M190.9,323.38v2.6 M193.86,323.39v2.6 M197.43,323.4v2.6 M200.16,323.41v2.6 M205.43,323.42v2.6 M208.17,323.42v2.6 M210.75,323.43v2.6 M216.51,323.44v2.6 M220.37,323.44v2.6 M222.06,323.44v2.6 M224.85,323.45v2.6 M230.83,323.45v2.6 M232.91,323.45v2.6 M236.34,323.45v2.6 M239.76,323.45v2.6" stroke="#192454" stroke-width="0.8" opacity="0.55"/>
<path d="M298.6,246.5V365.3H512" fill="none" stroke="#1a1a1a" stroke-width="1"/>
<path d="M295.6,363.2H298.6M295.6,351.85H298.6M295.6,340.5H298.6M295.6,329.15H298.6M295.6,317.8H298.6M295.6,306.45H298.6M295.6,295.1H298.6M295.6,283.75H298.6M295.6,272.4H298.6M295.6,261.05H298.6M295.6,249.7H298.6M301.2,365.3V367.9M318.53,365.3V367.9M335.86,365.3V367.9M353.19,365.3V367.9M370.52,365.3V367.9M387.85,365.3V367.9M405.18,365.3V367.9M422.51,365.3V367.9M439.84,365.3V367.9M457.17,365.3V367.9M474.5,365.3V367.9M491.83,365.3V367.9M509.16,365.3V367.9" stroke="#1a1a1a" stroke-width="0.9"/>
<text x="293.4" y="365.79" font-size="5.8" text-anchor="end"   fill="#333" >0.0</text>
<text x="293.4" y="354.91" font-size="5.8" text-anchor="end"   fill="#333" >0.1</text>
<text x="293.4" y="344.03" font-size="5.8" text-anchor="end"   fill="#333" >0.2</text>
<text x="293.4" y="333.15" font-size="5.8" text-anchor="end"   fill="#333" >0.3</text>
<text x="293.4" y="322.27" font-size="5.8" text-anchor="end"   fill="#333" >0.4</text>
<text x="293.4" y="311.39" font-size="5.8" text-anchor="end"   fill="#333" >0.5</text>
<text x="293.4" y="300.51" font-size="5.8" text-anchor="end"   fill="#333" >0.6</text>
<text x="293.4" y="289.63" font-size="5.8" text-anchor="end"   fill="#333" >0.7</text>
<text x="293.4" y="278.75" font-size="5.8" text-anchor="end"   fill="#333" >0.8</text>
<text x="293.4" y="267.87" font-size="5.8" text-anchor="end"   fill="#333" >0.9</text>
<text x="293.4" y="256.99" font-size="5.8" text-anchor="end"   fill="#333" >1.0</text>
<text x="301.2" y="377.09" font-size="5.8" text-anchor="middle"   fill="#333" >0</text>
<text x="318.53" y="377.09" font-size="5.8" text-anchor="middle"   fill="#333" >1</text>
<text x="335.86" y="377.09" font-size="5.8" text-anchor="middle"   fill="#333" >2</text>
<text x="353.19" y="377.09" font-size="5.8" text-anchor="middle"   fill="#333" >3</text>
<text x="370.52" y="377.09" font-size="5.8" text-anchor="middle"   fill="#333" >4</text>
<text x="387.85" y="377.09" font-size="5.8" text-anchor="middle"   fill="#333" >5</text>
<text x="405.18" y="377.09" font-size="5.8" text-anchor="middle"   fill="#333" >6</text>
<text x="422.51" y="377.09" font-size="5.8" text-anchor="middle"   fill="#333" >7</text>
<text x="439.84" y="377.09" font-size="5.8" text-anchor="middle"   fill="#333" >8</text>
<text x="457.17" y="377.09" font-size="5.8" text-anchor="middle"   fill="#333" >9</text>
<text x="474.5" y="377.09" font-size="5.8" text-anchor="middle"   fill="#333" >10</text>
<text x="491.83" y="377.09" font-size="5.8" text-anchor="middle"   fill="#333" >11</text>
<text x="509.16" y="377.09" font-size="5.8" text-anchor="middle"   fill="#333" >12</text>
<text transform="translate(278.5,308.5) rotate(-90)" font-size="7.6" text-anchor="middle" textLength="48.1" lengthAdjust="spacingAndGlyphs" fill="#1a1a1a" style="stroke-width:0.24px">Survival probability</text>
<text x="362" y="388.4" font-size="8.2"   textLength="87" lengthAdjust="spacingAndGlyphs" fill="#1a1a1a" style="stroke-width:0.32px">Years since second line treatment</text>
<text x="361.1" y="241.6" font-size="8.5" fill="#333" textLength="87.5" lengthAdjust="spacingAndGlyphs">Log-Rank test <tspan font-style="italic">P</tspan> ≤ .0001</text>
<text x="375.9" y="406" font-size="6.4"   textLength="59.9" lengthAdjust="spacingAndGlyphs" fill="#333" style="stroke-width:0.04px">Time to next treatment</text>
<path d="M298,413.5H311.9" stroke="#35557e" stroke-width="1.1"/>
<text x="315" y="415.7" font-size="6.4"   textLength="30.4" lengthAdjust="spacingAndGlyphs" fill="#333" style="stroke-width:0.04px">&lt; 3 months</text>
<path d="M352.4,413.5H365" stroke="#a8203c" stroke-width="1.1"/>
<text x="369" y="415.7" font-size="6.4"   textLength="14.5" lengthAdjust="spacingAndGlyphs" fill="#333" style="stroke-width:0.04px">3-5.9</text>
<path d="M389.8,413.5H404.3" stroke="#64a858" stroke-width="1.1"/>
<text x="406.9" y="415.7" font-size="6.4"   textLength="18" lengthAdjust="spacingAndGlyphs" fill="#333" style="stroke-width:0.04px">6-11.9</text>
<path d="M431.2,413.5H445" stroke="#c0307e" stroke-width="1.1"/>
<text x="448.5" y="415.7" font-size="6.4"   textLength="16.9" lengthAdjust="spacingAndGlyphs" fill="#333" style="stroke-width:0.04px">Year 2</text>
<path d="M472,413.5H485.9" stroke="#5c9a50" stroke-width="1.1"/>
<text x="489.4" y="415.7" font-size="6.4"   textLength="20.3" lengthAdjust="spacingAndGlyphs" fill="#333" style="stroke-width:0.04px">Year 3+</text>
<polygon points="301.2,249.7 302.37,255.07 303.54,262.4 304.71,270.77 305.88,276.55 307.05,282.39 308.22,288.43 309.39,294.27 310.56,299.59 311.74,304.4 312.91,308.88 314.08,312.27 315.25,315.08 316.42,317.32 317.59,319.08 318.76,320.57 319.93,321.83 321.1,323 322.27,324.09 323.44,325.07 324.61,325.98 325.78,326.81 326.95,327.57 328.12,328.29 329.29,328.97 330.46,329.62 331.64,330.24 332.81,330.82 333.98,331.37 335.15,331.88 336.32,332.36 337.49,332.81 338.66,333.27 339.83,333.73 341,334.17 342.17,334.6 343.34,334.99 344.51,335.33 345.68,335.64 346.85,335.92 348.02,336.19 349.19,336.45 350.36,336.72 351.54,337 352.71,337.3 353.88,337.6 355.05,337.9 356.22,338.2 357.39,338.5 358.56,338.8 359.73,339.09 360.9,339.39 362.07,339.68 363.24,339.97 364.41,340.28 365.58,340.59 366.75,340.88 367.92,341.15 369.09,341.39 370.26,341.58 371.44,341.73 372.61,341.86 373.78,341.97 374.95,342.08 376.12,342.18 377.29,342.27 378.46,342.37 379.63,342.46 380.8,342.55 381.97,342.64 383.14,342.73 384.31,342.81 385.48,342.9 386.65,342.98 387.82,343.06 388.99,343.14 390.17,343.22 391.34,343.3 392.51,343.37 393.68,343.45 394.85,343.52 396.02,343.59 397.19,343.66 398.36,343.72 399.53,343.79 400.7,343.86 401.87,343.92 403.04,343.98 404.21,344.04 405.38,344.1 406.55,344.16 407.72,344.21 408.89,344.27 410.07,344.33 411.24,344.38 412.41,344.44 413.58,344.49 414.75,344.55 415.92,344.6 417.09,344.65 418.26,344.7 419.43,344.75 420.6,344.8 421.77,344.85 422.94,344.89 424.11,344.93 425.28,344.96 426.45,345 427.62,345.03 428.79,345.06 429.97,345.08 431.14,345.1 432.31,345.12 433.48,345.14 434.65,345.16 435.82,345.18 436.99,345.2 438.16,345.22 439.33,345.24 440.5,345.26 441.67,345.28 442.84,345.3 444.01,345.32 445.18,345.34 446.35,345.35 447.52,345.37 448.69,345.39 449.87,345.4 451.04,345.42 452.21,345.44 453.38,345.45 454.55,345.47 455.72,345.48 456.89,345.49 458.06,345.51 459.23,345.52 460.4,345.53 461.57,345.55 462.74,345.56 463.91,345.57 465.08,345.58 466.25,345.59 467.42,345.6 468.59,345.61 469.77,345.61 470.94,345.62 472.11,345.63 473.28,345.64 474.45,345.64 475.62,345.65 476.79,345.65 477.96,345.66 479.13,345.66 480.3,345.66 481.47,345.66 482.64,345.66 483.81,345.67 484.98,345.67 486.15,345.66 487.32,345.66 487.32,354.86 486.15,354.86 484.98,354.85 483.81,354.85 482.64,354.85 481.47,354.84 480.3,354.83 479.13,354.83 477.96,354.82 476.79,354.81 475.62,354.8 474.45,354.79 473.28,354.78 472.11,354.77 470.94,354.76 469.77,354.75 468.59,354.74 467.42,354.73 466.25,354.71 465.08,354.7 463.91,354.68 462.74,354.67 461.57,354.65 460.4,354.64 459.23,354.62 458.06,354.6 456.89,354.59 455.72,354.57 454.55,354.55 453.38,354.53 452.21,354.51 451.04,354.49 449.87,354.47 448.69,354.45 447.52,354.43 446.35,354.41 445.18,354.39 444.01,354.37 442.84,354.35 441.67,354.32 440.5,354.3 439.33,354.28 438.16,354.25 436.99,354.23 435.82,354.2 434.65,354.18 433.48,354.16 432.31,354.13 431.14,354.11 429.97,354.08 428.79,354.05 427.62,354.02 426.45,353.99 425.28,353.95 424.11,353.91 422.94,353.87 421.77,353.82 420.6,353.77 419.43,353.72 418.26,353.67 417.09,353.61 415.92,353.56 414.75,353.5 413.58,353.44 412.41,353.38 411.24,353.32 410.07,353.26 408.89,353.2 407.72,353.14 406.55,353.08 405.38,353.02 404.21,352.96 403.04,352.89 401.87,352.83 400.7,352.76 399.53,352.69 398.36,352.62 397.19,352.55 396.02,352.47 394.85,352.4 393.68,352.32 392.51,352.25 391.34,352.17 390.17,352.09 388.99,352.01 387.82,351.92 386.65,351.84 385.48,351.75 384.31,351.66 383.14,351.57 381.97,351.48 380.8,351.39 379.63,351.29 378.46,351.2 377.29,351.1 376.12,351 374.95,350.9 373.78,350.79 372.61,350.66 371.44,350.53 370.26,350.39 369.09,350.23 367.92,350.04 366.75,349.81 365.58,349.56 364.41,349.29 363.24,349.03 362.07,348.77 360.9,348.52 359.73,348.27 358.56,348.01 357.39,347.75 356.22,347.49 355.05,347.23 353.88,346.97 352.71,346.71 351.54,346.46 350.36,346.22 349.19,345.99 348.02,345.77 346.85,345.54 345.68,345.3 344.51,345.03 343.34,344.73 342.17,344.38 341,343.99 339.83,343.59 338.66,343.17 337.49,342.76 336.32,342.34 335.15,341.92 333.98,341.47 332.81,341 331.64,340.48 330.46,339.93 329.29,339.34 328.12,338.73 326.95,338.09 325.78,337.39 324.61,336.63 323.44,335.79 322.27,334.87 321.1,333.86 319.93,332.75 318.76,331.55 317.59,330.22 316.42,328.62 315.25,326.55 314.08,323.92 312.91,320.69 311.74,316.38 310.56,311.59 309.39,306.27 308.22,300.43 307.05,294.39 305.88,287.66 304.71,279.85 303.54,269.45 302.37,259.13 301.2,249.7" fill="#7fd27f" fill-opacity="0.6"/>
<polygon points="301.2,249.7 302.38,255.12 303.56,262.5 304.74,270.97 305.92,277.4 307.1,283.54 308.28,288.89 309.46,293.56 310.64,298.64 311.82,302.52 313,305.47 314.18,307.68 315.36,309.44 316.55,310.71 317.73,311.7 318.91,312.52 320.09,313.24 321.27,313.85 322.45,314.41 323.63,314.93 324.81,315.48 325.99,316.03 327.17,316.52 328.35,316.89 329.53,317.17 330.71,317.41 331.89,317.64 333.07,317.83 334.25,318.01 335.43,318.18 336.61,318.34 337.79,318.49 338.97,318.64 340.15,318.79 341.33,318.94 342.51,319.09 343.69,319.23 344.87,319.36 346.06,319.49 347.24,319.62 348.42,319.74 349.6,319.86 350.78,319.98 351.96,320.09 353.14,320.21 354.32,320.33 355.5,320.45 356.68,320.57 357.86,320.69 359.04,320.81 360.22,320.94 361.4,321.07 362.58,321.21 363.76,321.36 364.94,321.5 366.12,321.65 367.3,321.81 368.48,321.96 369.66,322.12 370.84,322.27 372.02,322.42 373.2,322.57 374.38,322.72 375.57,322.86 376.75,323 377.93,323.13 379.11,323.26 380.29,323.39 381.47,323.52 382.65,323.65 383.83,323.78 385.01,323.9 386.19,324.03 387.37,324.15 388.55,324.26 389.73,324.38 390.91,324.48 392.09,324.59 393.27,324.68 394.45,324.77 395.63,324.86 396.81,324.94 397.99,325.02 399.17,325.1 400.35,325.18 401.53,325.26 402.71,325.34 403.89,325.41 405.08,325.49 406.26,325.56 407.44,325.63 408.62,325.7 409.8,325.77 410.98,325.84 412.16,325.9 413.34,325.97 414.52,326.03 415.7,326.1 416.88,326.16 418.06,326.22 419.24,326.28 420.42,326.34 421.6,326.4 422.78,326.45 423.96,326.51 425.14,326.57 426.32,326.62 427.5,326.67 428.68,326.73 429.86,326.78 431.04,326.83 432.22,326.88 433.41,326.93 434.59,326.98 435.77,327.03 436.95,327.08 438.13,327.12 439.31,327.17 440.49,327.21 441.67,327.26 442.85,327.3 444.03,327.35 445.21,327.39 446.39,327.43 447.57,327.47 448.75,327.52 449.93,327.56 451.11,327.6 452.29,327.64 453.47,327.68 454.65,327.72 455.83,327.76 457.01,327.8 458.19,327.84 459.37,327.88 460.55,327.91 461.73,327.95 462.92,327.99 464.1,328.02 465.28,328.06 466.46,328.09 467.64,328.13 468.82,328.16 470,328.19 471.18,328.23 472.36,328.26 473.54,328.29 474.72,328.32 475.9,328.35 477.08,328.38 478.26,328.41 479.44,328.43 480.62,328.46 481.8,328.49 482.98,328.51 484.16,328.54 485.34,328.56 486.52,328.58 487.7,328.6 488.88,328.62 488.88,341.02 487.7,341 486.52,340.98 485.34,340.95 484.16,340.92 482.98,340.89 481.8,340.86 480.62,340.83 479.44,340.8 478.26,340.77 477.08,340.74 475.9,340.71 474.72,340.67 473.54,340.64 472.36,340.6 471.18,340.57 470,340.53 468.82,340.49 467.64,340.46 466.46,340.42 465.28,340.38 464.1,340.34 462.92,340.3 461.73,340.26 460.55,340.22 459.37,340.18 458.19,340.14 457.01,340.09 455.83,340.05 454.65,340.01 453.47,339.96 452.29,339.92 451.11,339.87 449.93,339.83 448.75,339.78 447.57,339.74 446.39,339.69 445.21,339.64 444.03,339.6 442.85,339.55 441.67,339.5 440.49,339.45 439.31,339.4 438.13,339.35 436.95,339.3 435.77,339.25 434.59,339.2 433.41,339.14 432.22,339.09 431.04,339.04 429.86,338.98 428.68,338.93 427.5,338.87 426.32,338.81 425.14,338.75 423.96,338.69 422.78,338.63 421.6,338.57 420.42,338.51 419.24,338.45 418.06,338.38 416.88,338.32 415.7,338.25 414.52,338.18 413.34,338.11 412.16,338.04 410.98,337.97 409.8,337.9 408.62,337.83 407.44,337.75 406.26,337.68 405.08,337.6 403.89,337.53 402.71,337.45 401.53,337.37 400.35,337.28 399.17,337.2 397.99,337.12 396.81,337.03 395.63,336.94 394.45,336.86 393.27,336.76 392.09,336.66 390.91,336.55 389.73,336.44 388.55,336.32 387.37,336.2 386.19,336.08 385.01,335.95 383.83,335.82 382.65,335.69 381.47,335.56 380.29,335.43 379.11,335.29 377.93,335.16 376.75,335.02 375.57,334.88 374.38,334.73 373.2,334.58 372.02,334.43 370.84,334.27 369.66,334.12 368.48,333.96 367.3,333.81 366.12,333.65 364.94,333.5 363.76,333.36 362.58,333.21 361.4,333.07 360.22,332.94 359.04,332.81 357.86,332.69 356.68,332.57 355.5,332.45 354.32,332.33 353.14,332.21 351.96,332.09 350.78,331.98 349.6,331.86 348.42,331.74 347.24,331.62 346.06,331.49 344.87,331.36 343.69,331.23 342.51,331.09 341.33,330.94 340.15,330.79 338.97,330.64 337.79,330.49 336.61,330.34 335.43,330.18 334.25,330.01 333.07,329.83 331.89,329.64 330.71,329.41 329.53,329.17 328.35,328.89 327.17,328.52 325.99,328.03 324.81,327.48 323.63,326.93 322.45,326.41 321.27,325.85 320.09,325.24 318.91,324.52 317.73,323.7 316.55,322.71 315.36,321.44 314.18,319.68 313,317.47 311.82,314.52 310.64,310.64 309.46,305.56 308.28,300.89 307.1,295.54 305.92,288.58 304.74,280.1 303.56,269.59 302.38,259.21 301.2,249.7" fill="#9c4274" fill-opacity="0.6"/>
<polygon points="301.2,249.7 302.43,251.15 303.65,253.64 304.88,256.88 306.1,260.1 307.33,264.21 308.56,268.75 309.78,272.89 311.01,276.12 312.24,278.66 313.46,280.89 314.69,283.07 315.91,285.19 317.14,287.21 318.37,289.14 319.59,291.05 320.82,292.91 322.05,294.67 323.27,296.28 324.5,297.75 325.72,299.18 326.95,300.51 328.18,301.72 329.4,302.77 330.63,303.64 331.85,304.42 333.08,305.14 334.31,305.81 335.53,306.43 336.76,306.99 337.99,307.51 339.21,308.01 340.44,308.49 341.66,308.95 342.89,309.37 344.12,309.76 345.34,310.13 346.57,310.48 347.79,310.81 349.02,311.13 350.25,311.44 351.47,311.75 352.7,312.07 353.93,312.39 355.15,312.72 356.38,313.07 357.6,313.43 358.83,313.82 360.06,314.24 361.28,314.7 362.51,315.21 363.74,315.85 364.96,316.56 366.19,317.3 367.41,318.01 368.64,318.64 369.87,319.13 371.09,319.49 372.32,319.8 373.54,320.07 374.77,320.32 376,320.56 377.22,320.79 378.45,321.03 379.68,321.27 380.9,321.51 382.13,321.75 383.35,321.99 384.58,322.22 385.81,322.45 387.03,322.67 388.26,322.89 389.48,323.1 390.71,323.29 391.94,323.48 393.16,323.66 394.39,323.82 395.62,323.97 396.84,324.12 398.07,324.26 399.29,324.39 400.52,324.52 401.75,324.65 402.97,324.77 404.2,324.88 405.43,325 406.65,325.11 407.88,325.22 409.1,325.32 410.33,325.43 411.56,325.53 412.78,325.63 414.01,325.73 415.23,325.84 416.46,325.94 417.69,326.04 418.91,326.14 420.14,326.25 421.37,326.36 422.59,326.47 423.82,326.58 425.04,326.7 426.27,326.81 427.5,326.93 428.72,327.04 429.95,327.16 431.17,327.27 432.4,327.38 433.63,327.49 434.85,327.59 436.08,327.69 437.31,327.79 438.53,327.88 439.76,327.96 440.98,328.04 442.21,328.11 443.44,328.17 444.66,328.23 445.89,328.27 447.12,328.32 448.34,328.37 449.57,328.42 450.79,328.46 452.02,328.51 453.25,328.55 454.47,328.6 455.7,328.64 456.92,328.68 458.15,328.72 459.38,328.77 460.6,328.81 461.83,328.85 463.06,328.89 464.28,328.93 465.51,328.96 466.73,329 467.96,329.04 469.19,329.07 470.41,329.11 471.64,329.14 472.87,329.17 474.09,329.2 475.32,329.23 476.54,329.26 477.77,329.29 479,329.32 480.22,329.35 481.45,329.37 482.67,329.4 483.9,329.42 485.13,329.44 486.35,329.46 487.58,329.48 488.81,329.5 490.03,329.52 491.26,329.54 492.48,329.55 493.71,329.57 494.94,329.58 496.16,329.59 496.16,339.61 494.94,339.62 493.71,339.62 492.48,339.63 491.26,339.64 490.03,339.64 488.81,339.65 487.58,339.65 486.35,339.65 485.13,339.65 483.9,339.65 482.67,339.65 481.45,339.65 480.22,339.64 479,339.64 477.77,339.63 476.54,339.62 475.32,339.61 474.09,339.6 472.87,339.59 471.64,339.58 470.41,339.57 469.19,339.56 467.96,339.54 466.73,339.53 465.51,339.51 464.28,339.5 463.06,339.48 461.83,339.46 460.6,339.44 459.38,339.42 458.15,339.4 456.92,339.38 455.7,339.36 454.47,339.34 453.25,339.32 452.02,339.29 450.79,339.27 449.57,339.25 448.34,339.22 447.12,339.19 445.89,339.17 444.66,339.14 443.44,339.11 442.21,339.07 440.98,339.02 439.76,338.96 438.53,338.89 437.31,338.82 436.08,338.75 434.85,338.66 433.63,338.58 432.4,338.49 431.17,338.39 429.95,338.3 428.72,338.2 427.5,338.11 426.27,338.01 425.04,337.91 423.82,337.81 422.59,337.72 421.37,337.62 420.14,337.53 418.91,337.45 417.69,337.36 416.46,337.28 415.23,337.19 414.01,337.11 412.78,337.02 411.56,336.94 410.33,336.85 409.1,336.77 407.88,336.68 406.65,336.59 405.43,336.49 404.2,336.4 402.97,336.3 401.75,336.2 400.52,336.09 399.29,335.98 398.07,335.86 396.84,335.74 395.62,335.61 394.39,335.48 393.16,335.33 391.94,335.17 390.71,335 389.48,334.82 388.26,334.63 387.03,334.44 385.81,334.23 384.58,334.02 383.35,333.8 382.13,333.58 380.9,333.36 379.68,333.14 378.45,332.91 377.22,332.69 376,332.48 374.77,332.26 373.54,332.03 372.32,331.77 371.09,331.48 369.87,331.15 368.64,330.69 367.41,330.1 366.19,329.43 364.96,328.72 363.74,328.04 362.51,327.44 361.28,326.96 360.06,326.55 358.83,326.16 357.6,325.81 356.38,325.47 355.15,325.16 353.93,324.87 352.7,324.58 351.47,324.3 350.25,324.03 349.02,323.75 347.79,323.46 346.57,323.17 345.34,322.85 344.12,322.52 342.89,322.16 341.66,321.78 340.44,321.36 339.21,320.92 337.99,320.45 336.76,319.96 335.53,319.44 334.31,318.9 333.08,318.3 331.85,317.65 330.63,316.94 329.4,316.14 328.18,315.16 326.95,314.03 325.72,312.76 324.5,311.41 323.27,310 322.05,308.47 320.82,306.78 319.59,304.99 318.37,303.14 317.14,301.21 315.91,299.19 314.69,297.07 313.46,294.89 312.24,292.66 311.01,290.12 309.78,286.89 308.56,282.75 307.33,278.21 306.1,273.59 304.88,268.24 303.65,262.89 302.43,256.81 301.2,249.7" fill="#8c90e0" fill-opacity="0.5"/>
<polygon points="301.2,249.7 302.22,254.68 303.24,258.94 304.25,262.85 305.27,266.14 306.29,268.98 307.31,272.38 308.33,275.58 309.34,278.21 310.36,280.17 311.38,281.89 312.4,284.1 313.42,287.1 314.43,290.17 315.45,292.55 316.47,294.63 317.49,296.39 318.51,297.85 319.52,299.06 320.54,300.24 321.56,301.53 322.58,302.89 323.6,304.21 324.61,305.34 325.63,306.34 326.65,307.25 327.67,308.09 328.69,308.86 329.7,309.59 330.72,310.29 331.74,310.94 332.76,311.54 333.78,312.08 334.79,312.57 335.81,313.02 336.83,313.42 337.85,313.79 338.87,314.14 339.88,314.47 340.9,314.79 341.92,315.09 342.94,315.37 343.96,315.62 344.97,315.86 345.99,316.09 347.01,316.31 348.03,316.52 349.05,316.73 350.06,316.94 351.08,317.14 352.1,317.36 353.12,317.57 354.14,317.8 355.15,318.04 356.17,318.3 357.19,318.57 358.21,318.86 359.23,319.18 360.24,319.52 361.26,319.89 362.28,320.34 363.3,320.99 364.32,321.8 365.33,322.69 366.35,323.61 367.37,324.47 368.39,325.22 369.41,325.77 370.42,326.08 371.44,326.28 372.46,326.44 373.48,326.58 374.5,326.69 375.51,326.81 376.53,326.93 377.55,327.07 378.57,327.22 379.59,327.31 380.6,327.4 381.62,327.57 382.64,327.89 383.66,333.43 384.68,333.55 385.69,333.65 386.71,333.73 387.73,333.79 388.75,333.84 389.77,333.87 390.78,333.9 391.8,333.91 392.82,333.92 393.84,333.93 394.86,333.93 395.87,333.94 396.89,333.94 397.91,333.96 398.93,333.97 399.95,334 400.96,334.03 401.98,334.08 403,334.14 404.02,334.22 405.04,334.32 406.05,334.44 407.07,335.96 408.09,336 409.11,336.04 410.13,336.07 411.14,336.11 412.16,336.13 413.18,336.16 414.2,336.18 415.22,336.2 416.23,336.21 417.25,336.23 418.27,336.24 419.29,336.25 420.31,336.26 421.32,336.27 422.34,336.28 423.36,336.29 424.38,336.29 425.4,336.3 426.41,336.31 427.43,336.31 428.45,336.32 429.47,336.33 430.49,336.33 431.5,336.34 432.52,336.35 433.54,336.36 434.56,336.36 435.58,336.37 436.59,336.38 437.61,336.39 438.63,336.39 439.65,336.4 440.67,336.41 441.68,336.42 442.7,336.42 443.72,336.43 444.74,336.43 445.76,336.44 446.77,336.45 447.79,336.45 448.81,336.46 449.83,336.46 450.85,336.47 451.86,336.47 452.88,336.48 453.9,336.48 454.92,336.49 455.94,336.49 456.95,336.5 457.97,336.5 458.99,336.5 460.01,336.51 461.03,336.51 462.04,336.51 463.06,336.51 463.06,348.12 462.04,348.12 461.03,348.12 460.01,348.12 458.99,348.12 457.97,348.13 456.95,348.13 455.94,348.13 454.92,348.13 453.9,348.13 452.88,348.13 451.86,348.13 450.85,348.13 449.83,348.12 448.81,348.12 447.79,348.12 446.77,348.12 445.76,348.12 444.74,348.12 443.72,348.12 442.7,348.11 441.68,348.11 440.67,348.11 439.65,348.11 438.63,348.1 437.61,348.1 436.59,348.1 435.58,348.09 434.56,348.09 433.54,348.09 432.52,348.08 431.5,348.08 430.49,348.08 429.47,348.07 428.45,348.07 427.43,348.07 426.41,348.07 425.4,348.07 424.38,348.06 423.36,348.06 422.34,348.06 421.32,348.06 420.31,348.05 419.29,348.05 418.27,348.04 417.25,348.03 416.23,348.02 415.22,348.01 414.2,347.99 413.18,347.97 412.16,347.95 411.14,347.93 410.13,347.91 409.11,347.88 408.09,347.84 407.07,347.8 406.05,346.29 405.04,346.17 404.02,346.08 403,346.01 401.98,345.95 400.96,345.9 399.95,345.87 398.93,345.85 397.91,345.84 396.89,345.83 395.87,345.83 394.86,345.83 393.84,345.83 392.82,345.83 391.8,345.82 390.78,345.81 389.77,345.79 388.75,345.76 387.73,345.71 386.71,345.66 385.69,345.58 384.68,345.49 383.66,345.38 382.64,339.84 381.62,339.52 380.6,339.36 379.59,339.27 378.57,339.18 377.55,339.04 376.53,338.91 375.51,338.79 374.5,338.68 373.48,338.56 372.46,338.43 371.44,338.28 370.42,338.09 369.41,337.83 368.39,337.34 367.37,336.65 366.35,335.85 365.33,334.99 364.32,334.15 363.3,333.4 362.28,332.81 361.26,332.43 360.24,332.12 359.23,331.83 358.21,331.57 357.19,331.34 356.17,331.12 355.15,330.93 354.14,330.75 353.12,330.58 352.1,330.42 351.08,330.27 350.06,330.12 349.05,329.97 348.03,329.82 347.01,329.67 345.99,329.51 344.97,329.34 343.96,329.16 342.94,328.96 341.92,328.74 340.9,328.5 339.88,328.24 338.87,327.97 337.85,327.68 336.83,327.36 335.81,327.03 334.79,326.69 333.78,326.32 332.76,325.89 331.74,325.41 330.72,324.88 329.7,324.3 328.69,323.69 327.67,323.03 326.65,322.31 325.63,321.52 324.61,320.64 323.6,319.62 322.58,318.43 321.56,317.18 320.54,316.01 319.52,314.94 318.51,313.86 317.49,312.69 316.47,311.22 315.45,309.44 314.43,307.35 313.42,304.58 312.4,301.87 311.38,299.8 310.36,297.7 309.34,295.34 308.33,292.32 307.31,288.73 306.29,284.73 305.27,279.54 304.25,273.9 303.24,267.64 302.22,259.38 301.2,249.7" fill="#ee88c8" fill-opacity="0.55"/>
<polygon points="301.2,249.7 302.1,252.05 302.99,254.39 303.89,256.78 304.78,259.19 305.68,261.53 306.58,263.74 307.47,265.83 308.37,267.83 309.26,269.77 310.16,271.67 311.06,273.58 311.95,275.5 312.85,277.47 313.74,279.56 314.64,281.65 315.53,283.54 316.43,285.25 317.33,286.85 318.22,288.33 319.12,289.66 320.01,290.9 320.91,292.06 321.81,293.13 322.7,294.09 323.6,294.94 324.49,295.7 325.39,296.39 326.29,297.04 327.18,297.69 328.08,298.34 328.97,298.99 329.87,299.63 330.77,300.23 331.66,300.8 332.56,301.32 333.45,301.81 334.35,302.27 335.25,302.71 336.14,303.11 337.04,303.47 337.93,303.79 338.83,304.07 339.72,304.31 340.62,304.54 341.52,304.76 342.41,305 343.31,305.26 344.2,305.55 345.1,305.91 346,306.32 346.89,306.75 347.79,307.19 348.68,307.6 349.58,307.96 350.48,308.3 351.37,308.63 352.27,308.96 353.16,309.26 354.06,309.56 354.96,309.84 355.85,310.11 356.75,310.37 357.64,310.6 358.54,310.83 359.44,311.04 360.33,311.24 361.23,311.45 362.12,311.65 363.02,311.86 363.91,312.08 364.81,312.31 365.71,312.55 366.6,312.81 367.5,313.08 368.39,313.35 369.29,313.62 370.19,313.88 371.08,314.15 371.98,314.44 372.87,314.72 373.77,315.01 374.67,315.28 375.56,315.54 376.46,315.77 377.35,315.98 378.25,316.15 379.15,316.31 380.04,316.47 380.94,316.63 381.83,316.76 382.73,316.88 383.63,316.96 384.52,317 385.42,317.01 386.31,317.01 387.21,317.01 388.11,317.01 389,317.01 389.9,317.01 390.79,317.01 391.69,317.01 392.58,317.01 393.48,317.01 394.38,317.01 395.27,317.01 396.17,317.01 397.06,317.01 397.96,317.01 398.86,317.01 399.75,317.01 400.65,317.01 401.54,317.01 402.44,317.01 403.34,317.01 404.23,317.01 405.13,317.01 406.02,317.01 406.92,317.01 407.82,317.01 408.71,317.01 409.61,317.01 410.5,317.01 411.4,317.01 412.3,317.01 413.19,317.01 414.09,317.01 414.98,317.01 415.88,317.01 416.77,317.01 417.67,317.01 418.57,317.01 419.46,317.01 420.36,317.01 421.25,317.01 422.15,317.01 423.05,317.01 423.94,317.01 424.84,317.01 425.73,317.01 426.63,317.01 427.53,317.01 428.42,317.01 429.32,317.01 430.21,317.01 431.11,317.01 432.01,317.01 432.9,317.01 433.8,317.01 434.69,317.01 435.59,317.01 436.49,317.01 437.38,317.01 438.28,317.01 439.17,317.01 440.07,317.01 440.96,317.01 441.86,317.01 442.76,317.01 443.65,317.01 443.65,327.45 442.76,327.45 441.86,327.45 440.96,327.45 440.07,327.45 439.17,327.45 438.28,327.45 437.38,327.44 436.49,327.44 435.59,327.44 434.69,327.44 433.8,327.44 432.9,327.44 432.01,327.44 431.11,327.44 430.21,327.43 429.32,327.43 428.42,327.43 427.53,327.43 426.63,327.43 425.73,327.42 424.84,327.42 423.94,327.42 423.05,327.41 422.15,327.41 421.25,327.41 420.36,327.4 419.46,327.4 418.57,327.4 417.67,327.39 416.77,327.39 415.88,327.38 414.98,327.38 414.09,327.37 413.19,327.37 412.3,327.36 411.4,327.35 410.5,327.35 409.61,327.34 408.71,327.34 407.82,327.33 406.92,327.32 406.02,327.31 405.13,327.31 404.23,327.3 403.34,327.29 402.44,327.28 401.54,327.27 400.65,327.27 399.75,327.26 398.86,327.25 397.96,327.24 397.06,327.23 396.17,327.22 395.27,327.21 394.38,327.2 393.48,327.18 392.58,327.17 391.69,327.16 390.79,327.15 389.9,327.14 389,327.12 388.11,327.11 387.21,327.09 386.31,327.04 385.42,326.96 384.52,326.85 383.63,326.73 382.73,326.59 381.83,326.43 380.94,326.28 380.04,326.11 379.15,325.95 378.25,325.79 377.35,325.64 376.46,325.47 375.56,325.29 374.67,325.1 373.77,324.9 372.87,324.7 371.98,324.49 371.08,324.29 370.19,324.08 369.29,323.88 368.39,323.68 367.5,323.47 366.6,323.26 365.71,323.05 364.81,322.83 363.91,322.62 363.02,322.42 362.12,322.21 361.23,322.01 360.33,321.82 359.44,321.62 358.54,321.43 357.64,321.24 356.75,321.06 355.85,320.87 354.96,320.68 354.06,320.49 353.16,320.29 352.27,320.1 351.37,319.9 350.48,319.71 349.58,319.51 348.68,319.32 347.79,319.12 346.89,318.92 346,318.71 345.1,318.5 344.2,318.29 343.31,318.08 342.41,317.87 341.52,317.66 340.62,317.44 339.72,317.22 338.83,316.98 337.93,316.73 337.04,316.47 336.14,316.19 335.25,315.89 334.35,315.57 333.45,315.23 332.56,314.88 331.66,314.49 330.77,314.08 329.87,313.64 328.97,313.17 328.08,312.66 327.18,312.12 326.29,311.51 325.39,310.84 324.49,310.09 323.6,309.27 322.7,308.38 321.81,307.41 320.91,306.36 320.01,305.24 319.12,304.03 318.22,302.64 317.33,301.02 316.43,299.21 315.53,297.23 314.64,295.12 313.74,292.92 312.85,290.65 311.95,288.22 311.06,285.51 310.16,282.6 309.26,279.59 308.37,276.54 307.47,273.54 306.58,270.67 305.68,268.1 304.78,265.78 303.89,263.28 302.99,260.15 302.1,255.59 301.2,249.7" fill="#7ccfd2" fill-opacity="0.6"/>
<rect x="425" y="336" width="19" height="10" fill="#9a9ae0" fill-opacity="0.45"/>
<polyline points="301.2,249.7 302.37,257.1 303.54,265.93 304.71,275.31 305.88,282.11 307.05,288.39 308.22,294.43 309.39,300.27 310.56,305.59 311.74,310.39 312.91,314.78 314.08,318.1 315.25,320.82 316.42,322.97 317.59,324.65 318.76,326.06 319.93,327.29 321.1,328.43 322.27,329.48 323.44,330.43 324.61,331.3 325.78,332.1 326.95,332.83 328.12,333.51 329.29,334.15 330.46,334.77 331.64,335.36 332.81,335.91 333.98,336.42 335.15,336.9 336.32,337.35 337.49,337.79 338.66,338.22 339.83,338.66 341,339.08 342.17,339.49 343.34,339.86 344.51,340.18 345.68,340.47 346.85,340.73 348.02,340.98 349.19,341.22 350.36,341.47 351.54,341.73 352.71,342.01 353.88,342.28 355.05,342.56 356.22,342.84 357.39,343.13 358.56,343.4 359.73,343.68 360.9,343.95 362.07,344.22 363.24,344.5 364.41,344.79 365.58,345.07 366.75,345.34 367.92,345.59 369.09,345.81 370.26,345.98 371.44,346.13 372.61,346.26 373.78,346.38 374.95,346.49 376.12,346.59 377.29,346.69 378.46,346.78 379.63,346.88 380.8,346.97 381.97,347.06 383.14,347.15 384.31,347.24 385.48,347.32 386.65,347.41 387.82,347.49 388.99,347.57 390.17,347.65 391.34,347.73 392.51,347.81 393.68,347.89 394.85,347.96 396.02,348.03 397.19,348.1 398.36,348.17 399.53,348.24 400.7,348.31 401.87,348.37 403.04,348.44 404.21,348.5 405.38,348.56 406.55,348.62 407.72,348.68 408.89,348.74 410.07,348.79 411.24,348.85 412.41,348.91 413.58,348.97 414.75,349.02 415.92,349.08 417.09,349.13 418.26,349.19 419.43,349.24 420.6,349.29 421.77,349.33 422.94,349.38 424.11,349.42 425.28,349.46 426.45,349.49 427.62,349.53 428.79,349.55 429.97,349.58 431.14,349.6 432.31,349.63 433.48,349.65 434.65,349.67 435.82,349.69 436.99,349.72 438.16,349.74 439.33,349.76 440.5,349.78 441.67,349.8 442.84,349.82 444.01,349.84 445.18,349.86 446.35,349.88 447.52,349.9 448.69,349.92 449.87,349.94 451.04,349.96 452.21,349.97 453.38,349.99 454.55,350.01 455.72,350.02 456.89,350.04 458.06,350.06 459.23,350.07 460.4,350.09 461.57,350.1 462.74,350.11 463.91,350.13 465.08,350.14 466.25,350.15 467.42,350.16 468.59,350.17 469.77,350.18 470.94,350.19 472.11,350.2 473.28,350.21 474.45,350.22 475.62,350.23 476.79,350.23 477.96,350.24 479.13,350.24 480.3,350.25 481.47,350.25 482.64,350.26 483.81,350.26 484.98,350.26 486.15,350.26 487.32,350.26" fill="none" stroke="#3c9c44" stroke-width="1.1" stroke-linejoin="round"/><path d="M327.19,331.67v2.6 M331.6,334.04v2.6 M335.34,335.67v2.6 M339.71,337.31v2.6 M344.83,338.96v2.6 M349.55,339.99v2.6 M351.55,340.44v2.6 M356.46,341.6v2.6 M358.47,342.08v2.6 M361.04,342.68v2.6 M363.3,343.22v2.6 M368.23,344.35v2.6 M369.84,344.63v2.6 M373.04,345.01v2.6 M376.42,345.31v2.6 M381.25,345.71v2.6 M386.52,346.1v2.6 M391.21,346.42v2.6 M393.88,346.6v2.6 M398.35,346.87v2.6 M402.85,347.13v2.6 M408.33,347.41v2.6 M412.09,347.59v2.6 M414.3,347.7v2.6 M418.55,347.9v2.6 M422.7,348.07v2.6 M428.11,348.24v2.6 M433.37,348.35v2.6 M438.31,348.44v2.6 M440.17,348.47v2.6 M443.87,348.54v2.6 M449.1,348.63v2.6 M451.38,348.66v2.6 M455.95,348.73v2.6 M459.9,348.78v2.6 M464.61,348.83v2.6 M467.55,348.86v2.6 M471.49,348.9v2.6 M476.2,348.93v2.6 M478.52,348.94v2.6 M482.64,348.96v2.6 M486.99,348.96v2.6" stroke="#245d28" stroke-width="0.8" opacity="0.4"/>
<polyline points="301.2,249.7 301.74,251.37 302.29,253.03 302.83,254.7 303.38,256.36 303.92,258.03 304.47,259.7 305.01,261.38 305.56,263.05 306.1,264.7 306.65,266.35 307.19,268 307.74,269.67 308.28,271.31 308.83,272.92 309.37,274.47 309.92,275.95 310.46,277.35 311.01,278.71 311.55,280.02 312.1,281.3 312.64,282.55 313.19,283.79 313.73,285.01 314.28,286.25 314.82,287.48 315.37,288.7 315.91,289.88 316.46,290.99 317,292.02 317.55,292.95 318.09,293.83 318.64,294.67 319.18,295.46 319.73,296.21 320.27,296.94 320.82,297.64 321.36,298.33 321.91,299 322.45,299.64 323,300.27 323.54,300.86 324.09,301.43 324.63,301.96 325.18,302.46 325.72,302.94 326.27,303.39 326.81,303.82 327.36,304.23 327.9,304.62 328.45,305 328.99,305.36 329.54,305.7 330.08,306.03 330.63,306.35 331.17,306.66 331.72,306.95 332.26,307.24 332.81,307.52 333.35,307.8 333.9,308.07 334.44,308.34 334.99,308.6 335.53,308.86 336.08,309.11 336.62,309.36 337.17,309.6 337.71,309.84 338.26,310.08 338.8,310.3 339.35,310.53 339.89,310.74 340.44,310.95 340.98,311.16 341.53,311.36 342.07,311.55 342.62,311.74 343.16,311.93 343.71,312.11 344.25,312.3 344.8,312.47 345.34,312.65 345.89,312.82 346.43,312.99 346.98,313.16 347.52,313.33 348.07,313.49 348.61,313.66 349.16,313.82 349.7,313.98 350.25,314.14 350.79,314.3 351.34,314.46 351.88,314.62 352.43,314.76 352.97,314.91 353.52,315.05 354.06,315.19 354.61,315.33 355.15,315.46 355.7,315.6 356.24,315.73 356.79,315.87 357.33,316 357.88,316.14 358.42,316.28 358.97,316.43 359.51,316.58 360.06,316.73 360.6,316.89 361.15,317.06 361.69,317.24 362.24,317.42 362.78,317.62 363.33,317.84 363.87,318.06 364.42,318.29 364.96,318.53 365.51,318.78 366.05,319.02 366.6,319.26 367.14,319.51 367.69,319.74 368.23,319.97 368.78,320.19 369.32,320.4 369.87,320.59 370.41,320.78 370.96,320.96 371.5,321.14 372.05,321.32 372.59,321.5 373.14,321.68 373.68,321.85 374.23,322.01 374.77,322.17 375.32,322.32 375.86,322.46 376.41,322.59 376.95,322.71 377.5,322.82 378.04,322.92 378.59,323.01 379.13,323.1 379.68,323.19 380.22,323.27 380.77,323.36 381.31,323.44 381.86,323.51 382.4,323.59 382.95,323.66 383.49,323.72 384.04,323.79 384.58,323.84 385.13,323.89 385.67,323.94 386.22,323.97 386.76,324 387.31,324.03 387.85,324.04" fill="none" stroke="#2aa8c0" stroke-width="1.1" stroke-linejoin="round"/><path d="M327.19,302.81v2.6 M328.81,303.94v2.6 M331.68,305.63v2.6 M336.41,307.96v2.6 M337.88,308.61v2.6 M340,309.48v2.6 M343.48,310.74v2.6 M347.82,312.12v2.6 M349.56,312.64v2.6 M352.49,313.48v2.6 M356.77,314.56v2.6 M361.4,315.84v2.6 M362.81,316.33v2.6 M366.22,317.79v2.6 M370.94,319.65v2.6 M376.41,321.3v2.6 M381,322.09v2.6 M385.81,322.65v2.6" stroke="#196473" stroke-width="0.8" opacity="0.4"/>
<polyline points="301.2,249.7 302.22,256.93 303.24,263.09 304.25,268.07 305.27,272.44 306.29,276.35 307.31,279.95 308.33,283.25 309.34,285.97 310.36,288.04 311.38,289.85 312.4,291.88 313.42,294.64 314.43,297.46 315.45,299.58 316.47,301.4 317.49,302.94 318.51,304.21 319.52,305.33 320.54,306.43 321.56,307.64 322.58,308.95 323.6,310.21 324.61,311.29 325.63,312.23 326.65,313.08 327.67,313.86 328.69,314.58 329.7,315.25 330.72,315.88 331.74,316.47 332.76,317.01 333.78,317.5 334.79,317.92 335.81,318.32 336.83,318.69 337.85,319.03 338.87,319.35 339.88,319.66 340.9,319.94 341.92,320.21 342.94,320.46 343.96,320.69 344.97,320.9 345.99,321.1 347.01,321.29 348.03,321.47 349.05,321.65 350.06,321.83 351.08,322 352.1,322.18 353.12,322.37 354.14,322.57 355.15,322.78 356.17,323.01 357.19,323.25 358.21,323.51 359.23,323.8 360.24,324.12 361.26,324.46 362.28,324.87 363.3,325.49 364.32,326.27 365.33,327.14 366.35,328.03 367.37,328.86 368.39,329.57 369.41,330.1 370.42,330.38 371.44,330.58 372.46,330.73 373.48,330.87 374.5,330.98 375.51,331.1 376.53,331.22 377.55,331.35 378.57,331.5 379.59,331.58 380.6,331.67 381.62,331.84 382.64,332.16 383.66,337.7 384.68,337.82 385.69,337.91 386.71,337.99 387.73,338.05 388.75,338.09 389.77,338.13 390.78,338.15 391.8,338.16 392.82,338.17 393.84,338.18 394.86,338.18 395.87,338.18 396.89,338.19 397.91,338.19 398.93,338.21 399.95,338.23 400.96,338.27 401.98,338.31 403,338.37 404.02,338.45 405.04,338.55 406.05,338.66 407.07,340.18 408.09,340.22 409.11,340.26 410.13,340.29 411.14,340.32 412.16,340.34 413.18,340.36 414.2,340.38 415.22,340.4 416.23,340.41 417.25,340.43 418.27,340.44 419.29,340.45 420.31,340.45 421.32,340.46 422.34,340.47 423.36,340.47 424.38,340.48 425.4,340.48 426.41,340.48 427.43,340.49 428.45,340.49 429.47,340.5 430.49,340.5 431.5,340.51 432.52,340.51 433.54,340.52 434.56,340.53 435.58,340.53 436.59,340.54 437.61,340.54 438.63,340.55 439.65,340.55 440.67,340.56 441.68,340.56 442.7,340.57 443.72,340.57 444.74,340.57 445.76,340.58 446.77,340.58 447.79,340.59 448.81,340.59 449.83,340.59 450.85,340.59 451.86,340.6 452.88,340.6 453.9,340.6 454.92,340.6 455.94,340.61 456.95,340.61 457.97,340.61 458.99,340.61 460.01,340.61 461.03,340.61 462.04,340.61 463.06,340.61" fill="none" stroke="#c02888" stroke-width="1.1" stroke-linejoin="round"/><path d="M327.19,312.21v2.6 M332.07,315.35v2.6 M336.37,317.22v2.6 M340.95,318.66v2.6 M343.89,319.37v2.6 M348.89,320.32v2.6 M351.02,320.69v2.6 M355.99,321.67v2.6 M358.58,322.32v2.6 M361.08,323.1v2.6 M364.32,324.98v2.6 M369.36,328.78v2.6 M374.15,329.65v2.6 M379.06,330.24v2.6 M380.86,330.41v2.6 M386.05,336.64v2.6 M390.48,336.84v2.6 M393.5,336.88v2.6 M397.56,336.89v2.6 M400.85,336.96v2.6 M402.57,337.05v2.6 M406.73,338.87v2.6 M409.04,338.95v2.6 M412.9,339.06v2.6 M414.71,339.09v2.6 M418.56,339.14v2.6 M420.53,339.16v2.6 M422.2,339.17v2.6 M423.71,339.17v2.6 M427.21,339.19v2.6 M428.82,339.19v2.6 M433.77,339.22v2.6 M438.56,339.25v2.6 M442.1,339.26v2.6 M446.35,339.28v2.6 M450.66,339.29v2.6 M453.1,339.3v2.6 M455.44,339.31v2.6 M460.08,339.31v2.6 M462.02,339.31v2.6" stroke="#731851" stroke-width="0.8" opacity="0.4"/>
<polyline points="301.2,249.7 302.43,253.98 303.65,258.27 304.88,262.56 306.1,266.84 307.33,271.21 308.56,275.75 309.78,279.89 311.01,283.12 312.24,285.66 313.46,287.89 314.69,290.07 315.91,292.19 317.14,294.21 318.37,296.14 319.59,298.02 320.82,299.85 322.05,301.57 323.27,303.14 324.5,304.58 325.72,305.97 326.95,307.27 328.18,308.44 329.4,309.45 330.63,310.29 331.85,311.04 333.08,311.72 334.31,312.35 335.53,312.94 336.76,313.48 337.99,313.98 339.21,314.46 340.44,314.93 341.66,315.36 342.89,315.77 344.12,316.14 345.34,316.49 346.57,316.82 347.79,317.14 349.02,317.44 350.25,317.74 351.47,318.03 352.7,318.33 353.93,318.63 355.15,318.94 356.38,319.27 357.6,319.62 358.83,319.99 360.06,320.39 361.28,320.83 362.51,321.33 363.74,321.95 364.96,322.64 366.19,323.36 367.41,324.05 368.64,324.66 369.87,325.14 371.09,325.48 372.32,325.78 373.54,326.05 374.77,326.29 376,326.52 377.22,326.74 378.45,326.97 379.68,327.2 380.9,327.44 382.13,327.67 383.35,327.9 384.58,328.12 385.81,328.34 387.03,328.55 388.26,328.76 389.48,328.96 390.71,329.15 391.94,329.33 393.16,329.49 394.39,329.65 395.62,329.79 396.84,329.93 398.07,330.06 399.29,330.19 400.52,330.31 401.75,330.42 402.97,330.53 404.2,330.64 405.43,330.75 406.65,330.85 407.88,330.95 409.1,331.05 410.33,331.14 411.56,331.23 412.78,331.33 414.01,331.42 415.23,331.51 416.46,331.61 417.69,331.7 418.91,331.8 420.14,331.89 421.37,331.99 422.59,332.09 423.82,332.2 425.04,332.3 426.27,332.41 427.5,332.52 428.72,332.62 429.95,332.73 431.17,332.83 432.4,332.93 433.63,333.03 434.85,333.13 436.08,333.22 437.31,333.3 438.53,333.39 439.76,333.46 440.98,333.53 442.21,333.59 443.44,333.64 444.66,333.68 445.89,333.72 447.12,333.76 448.34,333.79 449.57,333.83 450.79,333.87 452.02,333.9 453.25,333.93 454.47,333.97 455.7,334 456.92,334.03 458.15,334.06 459.38,334.1 460.6,334.13 461.83,334.15 463.06,334.18 464.28,334.21 465.51,334.24 466.73,334.26 467.96,334.29 469.19,334.31 470.41,334.34 471.64,334.36 472.87,334.38 474.09,334.4 475.32,334.42 476.54,334.44 477.77,334.46 479,334.48 480.22,334.49 481.45,334.51 482.67,334.52 483.9,334.54 485.13,334.55 486.35,334.56 487.58,334.57 488.81,334.58 490.03,334.58 491.26,334.59 492.48,334.59 493.71,334.6 494.94,334.6 496.16,334.6" fill="none" stroke="#3a4a9c" stroke-width="1.0" stroke-linejoin="round"/><path d="M327.19,306.21v2.6 M329.6,308.3v2.6 M334.19,311v2.6 M339.49,313.27v2.6 M344.86,315.06v2.6 M349.56,316.27v2.6 M354.58,317.5v2.6 M359.42,318.88v2.6 M362.98,320.25v2.6 M367.32,322.71v2.6 M370.4,323.99v2.6 M375.38,325.1v2.6 M377.08,325.41v2.6 M381.08,326.17v2.6 M383.07,326.54v2.6 M385.22,326.94v2.6 M388.83,327.55v2.6 M392.34,328.08v2.6 M395.55,328.49v2.6 M397.3,328.68v2.6 M401.85,329.13v2.6 M403.78,329.31v2.6 M406.56,329.54v2.6 M408.19,329.67v2.6 M411.06,329.9v2.6 M415.47,330.23v2.6 M419.29,330.53v2.6 M421.58,330.71v2.6 M426.25,331.11v2.6 M428.86,331.34v2.6 M431.68,331.57v2.6 M435.86,331.9v2.6 M438.7,332.1v2.6 M442.49,332.3v2.6 M446.42,332.44v2.6 M451.61,332.59v2.6 M456.36,332.72v2.6 M461,332.84v2.6 M465.94,332.95v2.6 M471.46,333.06v2.6 M475.66,333.13v2.6 M479.21,333.18v2.6 M481.75,333.21v2.6 M486.73,333.26v2.6 M492,333.29v2.6" stroke="#222c5d" stroke-width="0.8" opacity="0.4"/>
<polyline points="301.2,249.7 302.38,257.17 303.56,266.04 304.74,275.54 305.92,282.99 307.1,289.54 308.28,294.89 309.46,299.56 310.64,304.64 311.82,308.52 313,311.47 314.18,313.68 315.36,315.44 316.55,316.71 317.73,317.7 318.91,318.52 320.09,319.24 321.27,319.85 322.45,320.41 323.63,320.93 324.81,321.48 325.99,322.03 327.17,322.52 328.35,322.89 329.53,323.17 330.71,323.41 331.89,323.64 333.07,323.83 334.25,324.01 335.43,324.18 336.61,324.34 337.79,324.49 338.97,324.64 340.15,324.79 341.33,324.94 342.51,325.09 343.69,325.23 344.87,325.36 346.06,325.49 347.24,325.62 348.42,325.74 349.6,325.86 350.78,325.98 351.96,326.09 353.14,326.21 354.32,326.33 355.5,326.45 356.68,326.57 357.86,326.69 359.04,326.81 360.22,326.94 361.4,327.07 362.58,327.21 363.76,327.36 364.94,327.5 366.12,327.65 367.3,327.81 368.48,327.96 369.66,328.12 370.84,328.27 372.02,328.42 373.2,328.58 374.38,328.72 375.57,328.87 376.75,329.01 377.93,329.14 379.11,329.28 380.29,329.41 381.47,329.54 382.65,329.67 383.83,329.8 385.01,329.93 386.19,330.05 387.37,330.18 388.55,330.29 389.73,330.41 390.91,330.52 392.09,330.62 393.27,330.72 394.45,330.81 395.63,330.9 396.81,330.99 397.99,331.07 399.17,331.15 400.35,331.23 401.53,331.31 402.71,331.39 403.89,331.47 405.08,331.54 406.26,331.62 407.44,331.69 408.62,331.76 409.8,331.84 410.98,331.91 412.16,331.97 413.34,332.04 414.52,332.11 415.7,332.17 416.88,332.24 418.06,332.3 419.24,332.36 420.42,332.42 421.6,332.48 422.78,332.54 423.96,332.6 425.14,332.66 426.32,332.72 427.5,332.77 428.68,332.83 429.86,332.88 431.04,332.93 432.22,332.99 433.41,333.04 434.59,333.09 435.77,333.14 436.95,333.19 438.13,333.24 439.31,333.28 440.49,333.33 441.67,333.38 442.85,333.43 444.03,333.47 445.21,333.52 446.39,333.56 447.57,333.61 448.75,333.65 449.93,333.69 451.11,333.74 452.29,333.78 453.47,333.82 454.65,333.86 455.83,333.91 457.01,333.95 458.19,333.99 459.37,334.03 460.55,334.07 461.73,334.11 462.92,334.14 464.1,334.18 465.28,334.22 466.46,334.26 467.64,334.29 468.82,334.33 470,334.36 471.18,334.4 472.36,334.43 473.54,334.46 474.72,334.5 475.9,334.53 477.08,334.56 478.26,334.59 479.44,334.62 480.62,334.65 481.8,334.67 482.98,334.7 484.16,334.73 485.34,334.75 486.52,334.78 487.7,334.8 488.88,334.82" fill="none" stroke="#4a1840" stroke-width="1.1" stroke-linejoin="round"/><path d="M327.19,321.23v2.6 M329.75,321.92v2.6 M334.32,322.72v2.6 M338.09,323.23v2.6 M340.04,323.47v2.6 M344.15,323.98v2.6 M348.88,324.49v2.6 M350.44,324.64v2.6 M352.94,324.89v2.6 M354.84,325.08v2.6 M358.47,325.45v2.6 M363.28,326v2.6 M364.79,326.18v2.6 M366.51,326.4v2.6 M371.9,327.11v2.6 M373.72,327.34v2.6 M377.08,327.75v2.6 M379.35,328v2.6 M384.41,328.56v2.6 M387.47,328.89v2.6 M392.89,329.39v2.6 M394.4,329.51v2.6 M399.73,329.89v2.6 M402.13,330.05v2.6 M407.45,330.39v2.6 M410.78,330.59v2.6 M413.22,330.73v2.6 M415.49,330.86v2.6 M417.12,330.95v2.6 M419,331.05v2.6 M420.68,331.14v2.6 M426.06,331.4v2.6 M431.09,331.64v2.6 M436.35,331.86v2.6 M437.83,331.92v2.6 M443.32,332.14v2.6 M445.85,332.24v2.6 M448.77,332.35v2.6 M452.84,332.5v2.6 M454.37,332.55v2.6 M455.79,332.6v2.6 M458.07,332.68v2.6 M460.05,332.75v2.6 M461.93,332.81v2.6 M465.96,332.94v2.6 M471.4,333.1v2.6 M475.36,333.21v2.6 M477.04,333.26v2.6 M482.33,333.39v2.6 M487.43,333.5v2.6" stroke="#2c0e26" stroke-width="0.8" opacity="0.4"/>
<rect x="0.5" y="0.5" width="519" height="423" fill="none" stroke="#5a5a5a" stroke-width="1"/>
</svg>
</body></html>
